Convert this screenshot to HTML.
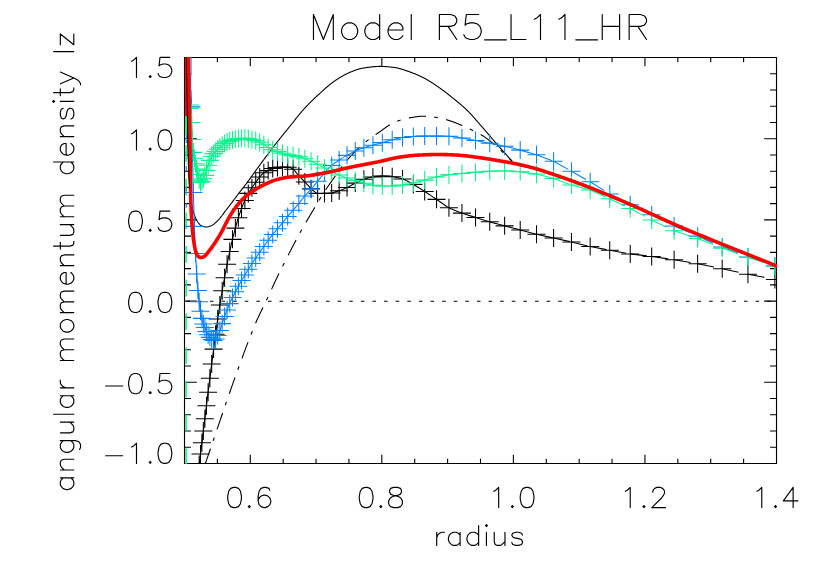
<!DOCTYPE html>
<html><head><meta charset="utf-8"><title>Model R5_L11_HR</title>
<style>html,body{margin:0;padding:0;background:#fff;font-family:"Liberation Sans",sans-serif}svg{display:block}</style></head>
<body>
<svg width="830" height="581" viewBox="0 0 830 581">
<rect width="830" height="581" fill="#fff"/>
<defs><clipPath id="c"><rect x="185.00" y="57.00" width="592.00" height="407.00"/></clipPath></defs>
<path d="M184.50 57.50H776.50V463.50H184.50ZM217.39 463.50v-4.10M217.39 57.50v4.10M250.28 463.50v-8.20M250.28 57.50v8.20M283.17 463.50v-4.10M283.17 57.50v4.10M316.06 463.50v-4.10M316.06 57.50v4.10M348.94 463.50v-4.10M348.94 57.50v4.10M381.83 463.50v-8.20M381.83 57.50v8.20M414.72 463.50v-4.10M414.72 57.50v4.10M447.61 463.50v-4.10M447.61 57.50v4.10M480.50 463.50v-4.10M480.50 57.50v4.10M513.39 463.50v-8.20M513.39 57.50v8.20M546.28 463.50v-4.10M546.28 57.50v4.10M579.17 463.50v-4.10M579.17 57.50v4.10M612.06 463.50v-4.10M612.06 57.50v4.10M644.94 463.50v-8.20M644.94 57.50v8.20M677.83 463.50v-4.10M677.83 57.50v4.10M710.72 463.50v-4.10M710.72 57.50v4.10M743.61 463.50v-4.10M743.61 57.50v4.10M184.50 447.26h5.90M776.50 447.26h-5.90M184.50 431.02h5.90M776.50 431.02h-5.90M184.50 414.78h5.90M776.50 414.78h-5.90M184.50 398.54h5.90M776.50 398.54h-5.90M184.50 382.30h11.80M776.50 382.30h-11.80M184.50 366.06h5.90M776.50 366.06h-5.90M184.50 349.82h5.90M776.50 349.82h-5.90M184.50 333.58h5.90M776.50 333.58h-5.90M184.50 317.34h5.90M776.50 317.34h-5.90M184.50 301.10h11.80M776.50 301.10h-11.80M184.50 284.86h5.90M776.50 284.86h-5.90M184.50 268.62h5.90M776.50 268.62h-5.90M184.50 252.38h5.90M776.50 252.38h-5.90M184.50 236.14h5.90M776.50 236.14h-5.90M184.50 219.90h11.80M776.50 219.90h-11.80M184.50 203.66h5.90M776.50 203.66h-5.90M184.50 187.42h5.90M776.50 187.42h-5.90M184.50 171.18h5.90M776.50 171.18h-5.90M184.50 154.94h5.90M776.50 154.94h-5.90M184.50 138.70h11.80M776.50 138.70h-11.80M184.50 122.46h5.90M776.50 122.46h-5.90M184.50 106.22h5.90M776.50 106.22h-5.90M184.50 89.98h5.90M776.50 89.98h-5.90M184.50 73.74h5.90M776.50 73.74h-5.90" stroke="#000" stroke-width="1.1" fill="none" stroke-linecap="square"/>
<g clip-path="url(#c)" fill="none" stroke-linecap="butt" stroke-linejoin="round">
<path d="M186.20 57.00 L186.21 57.59 L186.23 58.18 L186.24 58.77 L186.25 59.36 L186.26 59.95 L186.28 60.54 L186.29 61.12 L186.30 61.71 L186.31 62.30 L186.32 62.89 L186.34 63.48 L186.35 64.07 L186.36 64.66 L186.37 65.25 L186.39 65.84 L186.40 66.43 L186.41 67.02 L186.42 67.61 L186.44 68.19 L186.45 68.78 L186.46 69.37 L186.47 69.96 L186.49 70.55 L186.50 71.14 L186.51 71.73 L186.52 72.32 L186.54 72.91 L186.55 73.50 L186.56 74.09 L186.57 74.68 L186.59 75.27 L186.60 75.85 L186.61 76.44 L186.62 77.03 L186.63 77.62 L186.65 78.21 L186.66 78.80 L186.67 79.39 L186.68 79.98 L186.70 80.57 L186.71 81.16 L186.72 81.75 L186.73 82.34 L186.75 82.93 L186.76 83.51 L186.77 84.10 L186.78 84.69 L186.79 85.28 L186.81 85.87 L186.82 86.46 L186.83 87.05 L186.84 87.64 L186.86 88.23 L186.87 88.82 L186.88 89.41 L186.89 90.00 L186.90 90.59 L186.92 91.17 L186.93 91.76 L186.94 92.35 L186.95 92.94 L186.96 93.53 L186.98 94.12 L186.99 94.71 L187.00 95.30 L187.01 95.89 L187.03 96.48 L187.04 97.07 L187.05 97.66 L187.06 98.24 L187.07 98.83 L187.09 99.42 L187.10 100.01 L187.11 100.60 L187.12 101.19 L187.13 101.78 L187.15 102.37 L187.16 102.96 L187.17 103.55 L187.18 104.14 L187.19 104.73 L187.21 105.32 L187.22 105.90 L187.23 106.49 L187.24 107.08 L187.25 107.67 L187.26 108.26 L187.28 108.85 L187.29 109.44 L187.30 110.03 L187.31 110.62 L187.32 111.21 L187.33 111.80 L187.34 112.39 L187.35 112.98 L187.37 113.56 L187.38 114.15 L187.39 114.74 L187.40 115.33 L187.41 115.92 L187.42 116.51 L187.43 117.10 L187.44 117.69 L187.45 118.28 L187.46 118.87 L187.47 119.46 L187.48 120.05 L187.49 120.64 L187.50 121.23 L187.51 121.81 L187.52 122.40 L187.53 122.99 L187.55 123.58 L187.56 124.17 L187.57 124.76 L187.58 125.35 L187.59 125.94 L187.60 126.53 L187.61 127.12 L187.62 127.71 L187.63 128.30 L187.64 128.89 L187.65 129.48 L187.66 130.06 L187.67 130.65 L187.69 131.24 L187.70 131.83 L187.71 132.42 L187.72 133.01 L187.73 133.60 L187.74 134.19 L187.75 134.78 L187.77 135.37 L187.78 135.96 L187.79 136.55 L187.80 137.14 L187.81 137.72 L187.83 138.31 L187.84 138.90 L187.85 139.49 L187.86 140.08 L187.88 140.67 L187.89 141.26 L187.90 141.85 L187.92 142.44 L187.93 143.03 L187.94 143.62 L187.96 144.21 L187.97 144.79 L187.98 145.38 L188.00 145.97 L188.01 146.56 L188.03 147.15 L188.04 147.74 L188.06 148.33 L188.07 148.92 L188.09 149.51 L188.10 150.10 L188.12 150.69 L188.13 151.27 L188.15 151.86 L188.17 152.45 L188.18 153.04 L188.20 153.63 L188.21 154.22 L188.23 154.81 L188.25 155.40 L188.26 155.99 L188.28 156.58 L188.30 157.17 L188.31 157.76 L188.33 158.35 L188.35 158.94 L188.37 159.53 L188.38 160.11 L188.40 160.70 L188.42 161.29 L188.44 161.88 L188.46 162.47 L188.48 163.06 L188.50 163.65 L188.52 164.24 L188.54 164.83 L188.56 165.42 L188.58 166.01 L188.60 166.60 L188.62 167.19 L188.64 167.77 L188.67 168.36 L188.69 168.95 L188.71 169.54 L188.74 170.13 L188.76 170.72 L188.78 171.31 L188.81 171.90 L188.83 172.49 L188.86 173.07 L188.89 173.66 L188.91 174.25 L188.94 174.84 L188.97 175.43 L189.00 176.02 L189.02 176.60 L189.05 177.19 L189.08 177.78 L189.11 178.37 L189.14 178.96 L189.18 179.54 L189.21 180.13 L189.24 180.72 L189.27 181.31 L189.31 181.90 L189.34 182.49 L189.38 183.08 L189.42 183.67 L189.46 184.26 L189.50 184.85 L189.54 185.44 L189.58 186.03 L189.63 186.62 L189.67 187.21 L189.72 187.80 L189.77 188.39 L189.82 188.98 L189.87 189.57 L189.92 190.16 L189.97 190.75 L190.03 191.34 L190.08 191.93 L190.14 192.52 L190.20 193.11 L190.26 193.70 L190.32 194.29 L190.38 194.87 L190.45 195.46 L190.51 196.05 L190.58 196.63 L190.65 197.22 L190.72 197.80 L190.79 198.39 L190.87 198.97 L190.94 199.55 L191.02 200.13 L191.10 200.71 L191.18 201.29 L191.26 201.87 L191.35 202.45 L191.43 203.03 L191.52 203.60 L191.61 204.17 L191.71 204.75 L191.81 205.33 L191.92 205.91 L192.03 206.49 L192.15 207.07 L192.28 207.66 L192.41 208.24 L192.55 208.83 L192.70 209.42 L192.85 210.00 L193.01 210.58 L193.18 211.16 L193.35 211.74 L193.52 212.32 L193.71 212.90 L193.89 213.47 L194.09 214.04 L194.28 214.60 L194.49 215.16 L194.70 215.71 L194.91 216.26 L195.13 216.80 L195.36 217.34 L195.59 217.87 L195.82 218.39 L196.06 218.91 L196.31 219.41 L196.56 219.91 L196.83 220.42 L197.12 220.94 L197.44 221.47 L197.77 222.00 L198.13 222.53 L198.51 223.04 L198.90 223.53 L199.30 224.00 L199.72 224.43 L200.16 224.82 L200.60 225.17 L201.05 225.46 L201.51 225.70 L202.01 225.94 L202.55 226.16 L203.12 226.38 L203.70 226.57 L204.30 226.74 L204.91 226.87 L205.50 226.96 L206.09 227.00 L206.66 226.98 L207.24 226.92 L207.83 226.81 L208.41 226.67 L209.00 226.50 L209.57 226.32 L210.14 226.12 L210.68 225.92 L211.21 225.72 L211.73 225.48 L212.24 225.20 L212.75 224.90 L213.24 224.56 L213.73 224.20 L214.21 223.83 L214.68 223.44 L215.13 223.05 L215.58 222.66 L216.02 222.27 L216.45 221.89 L216.87 221.49 L217.28 221.09 L217.69 220.68 L218.09 220.26 L218.49 219.84 L218.88 219.40 L219.26 218.96 L219.65 218.52 L220.03 218.07 L220.40 217.61 L220.77 217.15 L221.14 216.68 L221.50 216.21 L221.87 215.74 L222.23 215.27 L222.58 214.79 L222.94 214.31 L223.30 213.83 L223.65 213.35 L224.01 212.87 L224.36 212.39 L224.72 211.91 L225.07 211.43 L225.43 210.95 L225.79 210.48 L226.14 210.00 L226.50 209.54 L226.87 209.07 L227.23 208.61 L227.59 208.14 L227.96 207.68 L228.32 207.21 L228.68 206.75 L229.04 206.28 L229.40 205.81 L229.75 205.34 L230.11 204.87 L230.47 204.41 L230.82 203.94 L231.18 203.46 L231.53 202.99 L231.89 202.52 L232.24 202.05 L232.59 201.58 L232.94 201.11 L233.30 200.63 L233.65 200.16 L234.00 199.69 L234.36 199.22 L234.71 198.74 L235.06 198.27 L235.41 197.80 L235.77 197.33 L236.12 196.86 L236.47 196.38 L236.83 195.91 L237.18 195.44 L237.54 194.97 L237.89 194.50 L238.25 194.03 L238.60 193.56 L238.96 193.09 L239.32 192.62 L239.68 192.16 L240.04 191.69 L240.40 191.23 L240.76 190.76 L241.13 190.30 L241.49 189.84 L241.86 189.37 L242.22 188.91 L242.59 188.45 L242.96 187.99 L243.32 187.53 L243.69 187.06 L244.05 186.60 L244.42 186.14 L244.78 185.67 L245.14 185.21 L245.50 184.74 L245.86 184.27 L246.22 183.81 L246.57 183.34 L246.93 182.87 L247.28 182.39 L247.63 181.92 L247.98 181.45 L248.33 180.97 L248.68 180.50 L249.03 180.02 L249.38 179.55 L249.73 179.07 L250.07 178.59 L250.42 178.12 L250.76 177.64 L251.11 177.16 L251.45 176.68 L251.79 176.20 L252.14 175.72 L252.48 175.24 L252.82 174.76 L253.16 174.28 L253.51 173.80 L253.85 173.32 L254.19 172.84 L254.53 172.36 L254.87 171.88 L255.22 171.40 L255.56 170.92 L255.90 170.44 L256.24 169.96 L256.59 169.48 L256.93 169.01 L257.27 168.53 L257.62 168.05 L257.96 167.57 L258.31 167.09 L258.65 166.61 L259.00 166.14 L259.35 165.66 L259.70 165.19 L260.04 164.71 L260.39 164.24 L260.74 163.76 L261.09 163.29 L261.44 162.81 L261.79 162.34 L262.14 161.87 L262.49 161.39 L262.84 160.92 L263.20 160.45 L263.55 159.97 L263.90 159.50 L264.25 159.02 L264.60 158.55 L264.95 158.08 L265.30 157.60 L265.65 157.13 L266.01 156.66 L266.36 156.19 L266.71 155.71 L267.06 155.24 L267.42 154.77 L267.77 154.30 L268.12 153.83 L268.48 153.36 L268.83 152.88 L269.19 152.41 L269.54 151.94 L269.90 151.47 L270.25 151.00 L270.61 150.53 L270.97 150.06 L271.32 149.60 L271.68 149.13 L272.04 148.66 L272.40 148.19 L272.75 147.72 L273.11 147.26 L273.47 146.79 L273.83 146.32 L274.19 145.86 L274.55 145.39 L274.91 144.92 L275.28 144.46 L275.64 143.99 L276.00 143.53 L276.36 143.07 L276.73 142.60 L277.09 142.14 L277.46 141.68 L277.82 141.22 L278.19 140.75 L278.56 140.29 L278.92 139.83 L279.29 139.37 L279.66 138.91 L280.03 138.45 L280.40 137.99 L280.76 137.53 L281.13 137.07 L281.50 136.61 L281.87 136.15 L282.24 135.69 L282.61 135.23 L282.98 134.78 L283.35 134.32 L283.72 133.86 L284.09 133.40 L284.46 132.94 L284.84 132.48 L285.21 132.03 L285.58 131.57 L285.95 131.11 L286.32 130.65 L286.69 130.20 L287.06 129.74 L287.43 129.28 L287.81 128.82 L288.18 128.36 L288.55 127.91 L288.92 127.45 L289.29 126.99 L289.66 126.53 L290.03 126.07 L290.40 125.61 L290.77 125.15 L291.13 124.69 L291.50 124.23 L291.87 123.76 L292.23 123.30 L292.60 122.84 L292.96 122.37 L293.33 121.91 L293.70 121.45 L294.06 120.98 L294.43 120.52 L294.79 120.06 L295.16 119.59 L295.53 119.13 L295.89 118.67 L296.26 118.21 L296.63 117.74 L297.00 117.28 L297.37 116.82 L297.74 116.36 L298.11 115.91 L298.48 115.45 L298.85 114.99 L299.23 114.54 L299.60 114.08 L299.98 113.63 L300.36 113.18 L300.74 112.73 L301.12 112.28 L301.50 111.83 L301.88 111.39 L302.27 110.94 L302.66 110.50 L303.05 110.06 L303.44 109.62 L303.83 109.19 L304.22 108.75 L304.62 108.32 L305.02 107.89 L305.42 107.46 L305.82 107.03 L306.23 106.60 L306.63 106.17 L307.04 105.75 L307.45 105.32 L307.85 104.90 L308.27 104.48 L308.68 104.05 L309.09 103.63 L309.51 103.21 L309.92 102.79 L310.34 102.38 L310.76 101.96 L311.18 101.54 L311.60 101.13 L312.02 100.72 L312.44 100.30 L312.87 99.89 L313.29 99.48 L313.72 99.07 L314.14 98.66 L314.57 98.26 L315.00 97.85 L315.43 97.44 L315.86 97.04 L316.29 96.64 L316.72 96.23 L317.15 95.83 L317.58 95.43 L318.02 95.03 L318.45 94.63 L318.88 94.24 L319.32 93.84 L319.75 93.44 L320.19 93.05 L320.62 92.65 L321.06 92.25 L321.50 91.86 L321.93 91.46 L322.37 91.06 L322.81 90.66 L323.25 90.26 L323.69 89.87 L324.13 89.47 L324.57 89.08 L325.01 88.68 L325.46 88.29 L325.90 87.90 L326.35 87.51 L326.79 87.12 L327.24 86.73 L327.69 86.35 L328.15 85.97 L328.60 85.59 L329.05 85.21 L329.51 84.84 L329.97 84.47 L330.43 84.10 L330.89 83.74 L331.36 83.38 L331.82 83.02 L332.29 82.67 L332.76 82.32 L333.24 81.98 L333.71 81.64 L334.19 81.31 L334.67 80.98 L335.15 80.65 L335.64 80.32 L336.13 79.99 L336.62 79.66 L337.11 79.33 L337.61 79.01 L338.10 78.69 L338.60 78.37 L339.11 78.05 L339.61 77.73 L340.12 77.42 L340.62 77.11 L341.13 76.80 L341.65 76.50 L342.16 76.20 L342.68 75.91 L343.19 75.62 L343.71 75.33 L344.23 75.05 L344.76 74.78 L345.28 74.51 L345.81 74.24 L346.33 73.98 L346.86 73.73 L347.39 73.48 L347.92 73.24 L348.46 73.00 L348.99 72.78 L349.53 72.55 L350.07 72.32 L350.61 72.09 L351.15 71.86 L351.70 71.64 L352.25 71.41 L352.80 71.19 L353.36 70.97 L353.91 70.75 L354.47 70.54 L355.03 70.33 L355.59 70.13 L356.15 69.93 L356.72 69.73 L357.28 69.55 L357.85 69.36 L358.41 69.19 L358.98 69.03 L359.55 68.87 L360.12 68.72 L360.69 68.58 L361.26 68.45 L361.83 68.33 L362.41 68.22 L362.98 68.12 L363.55 68.03 L364.13 67.94 L364.70 67.85 L365.28 67.76 L365.86 67.67 L366.44 67.59 L367.02 67.50 L367.61 67.42 L368.19 67.34 L368.78 67.26 L369.36 67.18 L369.95 67.11 L370.54 67.03 L371.13 66.97 L371.72 66.90 L372.31 66.84 L372.90 66.78 L373.49 66.72 L374.08 66.67 L374.67 66.62 L375.26 66.58 L375.86 66.54 L376.45 66.50 L377.04 66.47 L377.63 66.45 L378.22 66.43 L378.81 66.41 L379.39 66.40 L379.98 66.40 L380.57 66.40 L381.16 66.41 L381.75 66.42 L382.34 66.44 L382.93 66.46 L383.52 66.49 L384.11 66.52 L384.70 66.55 L385.29 66.59 L385.88 66.63 L386.47 66.67 L387.06 66.72 L387.65 66.77 L388.24 66.82 L388.83 66.87 L389.42 66.93 L390.01 66.99 L390.60 67.05 L391.18 67.12 L391.77 67.18 L392.35 67.25 L392.93 67.31 L393.51 67.38 L394.09 67.45 L394.67 67.52 L395.25 67.60 L395.82 67.69 L396.40 67.79 L396.97 67.90 L397.54 68.03 L398.12 68.16 L398.69 68.30 L399.26 68.44 L399.83 68.60 L400.40 68.76 L400.97 68.93 L401.54 69.10 L402.11 69.28 L402.67 69.46 L403.24 69.64 L403.80 69.83 L404.36 70.03 L404.93 70.22 L405.49 70.41 L406.05 70.61 L406.61 70.81 L407.17 71.00 L407.73 71.20 L408.28 71.39 L408.84 71.58 L409.39 71.77 L409.95 71.96 L410.50 72.16 L411.06 72.36 L411.61 72.56 L412.16 72.77 L412.71 72.98 L413.27 73.19 L413.82 73.41 L414.37 73.63 L414.92 73.85 L415.46 74.07 L416.01 74.30 L416.56 74.53 L417.10 74.76 L417.64 75.00 L418.18 75.24 L418.72 75.48 L419.26 75.72 L419.80 75.97 L420.33 76.21 L420.87 76.46 L421.40 76.72 L421.93 76.97 L422.45 77.23 L422.98 77.49 L423.50 77.75 L424.02 78.02 L424.54 78.29 L425.06 78.56 L425.57 78.84 L426.09 79.13 L426.60 79.42 L427.11 79.71 L427.62 80.01 L428.13 80.31 L428.64 80.61 L429.14 80.92 L429.64 81.22 L430.15 81.54 L430.65 81.85 L431.15 82.17 L431.65 82.49 L432.14 82.81 L432.64 83.13 L433.14 83.46 L433.63 83.78 L434.12 84.11 L434.61 84.44 L435.10 84.77 L435.59 85.10 L436.08 85.43 L436.57 85.76 L437.06 86.09 L437.54 86.42 L438.03 86.76 L438.51 87.09 L438.99 87.43 L439.48 87.76 L439.96 88.10 L440.44 88.45 L440.91 88.79 L441.39 89.14 L441.87 89.48 L442.34 89.83 L442.81 90.19 L443.29 90.54 L443.76 90.89 L444.23 91.25 L444.70 91.61 L445.17 91.96 L445.63 92.32 L446.10 92.69 L446.57 93.05 L447.03 93.41 L447.50 93.78 L447.96 94.14 L448.43 94.51 L448.89 94.87 L449.35 95.24 L449.81 95.61 L450.27 95.97 L450.73 96.34 L451.19 96.71 L451.65 97.08 L452.11 97.45 L452.57 97.82 L453.03 98.19 L453.49 98.56 L453.95 98.93 L454.41 99.30 L454.87 99.67 L455.33 100.04 L455.78 100.41 L456.24 100.78 L456.70 101.16 L457.16 101.53 L457.62 101.90 L458.07 102.28 L458.53 102.66 L458.98 103.03 L459.44 103.41 L459.89 103.79 L460.34 104.18 L460.79 104.56 L461.24 104.94 L461.68 105.33 L462.13 105.71 L462.57 106.10 L463.01 106.49 L463.45 106.88 L463.89 107.28 L464.33 107.67 L464.76 108.07 L465.19 108.47 L465.62 108.87 L466.05 109.27 L466.47 109.68 L466.89 110.09 L467.31 110.50 L467.73 110.91 L468.14 111.32 L468.55 111.74 L468.96 112.16 L469.37 112.59 L469.78 113.01 L470.18 113.44 L470.58 113.87 L470.98 114.30 L471.38 114.73 L471.78 115.17 L472.18 115.60 L472.57 116.04 L472.97 116.48 L473.36 116.92 L473.75 117.36 L474.15 117.80 L474.54 118.24 L474.93 118.69 L475.31 119.13 L475.70 119.58 L476.09 120.03 L476.48 120.47 L476.87 120.92 L477.25 121.36 L477.64 121.81 L478.03 122.26 L478.41 122.71 L478.80 123.15 L479.19 123.60 L479.57 124.04 L479.96 124.49 L480.35 124.93 L480.74 125.38 L481.13 125.82 L481.52 126.26 L481.91 126.70 L482.29 127.15 L482.68 127.59 L483.07 128.04 L483.45 128.48 L483.84 128.93 L484.22 129.37 L484.61 129.82 L484.99 130.27 L485.37 130.72 L485.76 131.16 L486.14 131.61 L486.52 132.06 L486.90 132.51 L487.28 132.96 L487.67 133.41 L488.05 133.86 L488.43 134.31 L488.81 134.76 L489.19 135.21 L489.57 135.66 L489.95 136.11 L490.33 136.56 L490.72 137.01 L491.10 137.45 L491.48 137.90 L491.86 138.35 L492.25 138.80 L492.63 139.25 L493.01 139.70 L493.40 140.14 L493.78 140.59 L494.17 141.04 L494.55 141.48 L494.94 141.93 L495.32 142.37 L495.71 142.81 L496.10 143.26 L496.49 143.70 L496.88 144.14 L497.27 144.59 L497.66 145.03 L498.04 145.47 L498.43 145.91 L498.82 146.36 L499.21 146.80 L499.60 147.24 L499.99 147.68 L500.38 148.12 L500.78 148.56 L501.17 149.00 L501.56 149.44 L501.95 149.89 L502.34 150.33 L502.73 150.77 L503.12 151.21 L503.52 151.65 L503.91 152.09 L504.30 152.52 L504.69 152.96 L505.09 153.40 L505.48 153.84 L505.87 154.28 L506.27 154.72 L506.66 155.16 L507.06 155.60 L507.45 156.03 L507.85 156.47 L508.24 156.91 L508.64 157.35 L509.03 157.78 L509.43 158.22 L509.82 158.66 L510.22 159.09 L510.61 159.53 L511.01 159.97 L511.41 160.40 L511.80 160.84 L512.20 161.27" stroke="#000" stroke-width="1.1"/>
<path d="M203.50 469.00 L203.67 468.49 L203.84 467.99 L204.01 467.48 L204.19 466.97 L204.36 466.46 L204.53 465.96 L204.70 465.45 L204.87 464.94 L205.05 464.44 L205.22 463.93 L205.40 463.42 L205.57 462.92 L205.74 462.41 L205.92 461.90 L206.09 461.40 L206.27 460.89 L206.44 460.38 L206.62 459.88 L206.79 459.37 L206.96 458.87 L207.14 458.36 L207.31 457.85 L207.49 457.35 L207.66 456.84 L207.83 456.33 L208.01 455.83 L208.18 455.32 L208.35 454.81 L208.53 454.31 L208.70 453.80 L208.87 453.29 L209.05 452.79 L209.22 452.28 L209.39 451.77 L209.57 451.26 L209.74 450.76 L209.91 450.25 L210.09 449.74 L210.26 449.24 L210.43 448.73 L210.61 448.22 L210.78 447.72 L210.95 447.21 L211.13 446.70 L211.30 446.20 L211.47 445.69 L211.64 445.18 L211.82 444.67 L211.99 444.17 L212.16 443.66 L212.34 443.15 L212.51 442.65 L212.68 442.14 L212.85 441.63 L213.03 441.12 L213.20 440.62 L213.37 440.11 L213.55 439.60 L213.72 439.10 L213.89 438.59 L214.06 438.08 L214.24 437.57 L214.41 437.07 L214.58 436.56 L214.75 436.05 L214.93 435.55 L215.10 435.04 L215.27 434.53 L215.45 434.02 L215.62 433.52 L215.79 433.01 L215.96 432.50 L216.14 431.99 L216.31 431.49 L216.48 430.98 L216.65 430.47 L216.83 429.97 L217.00 429.46 L217.17 428.95 L217.35 428.44 L217.52 427.94 L217.69 427.43 L217.86 426.92 L218.04 426.42 L218.21 425.91 L218.38 425.40 L218.56 424.89 L218.73 424.39 L218.90 423.88 L219.07 423.37 L219.25 422.87 L219.42 422.36 L219.59 421.85 L219.77 421.34 L219.94 420.84 L220.11 420.33 L220.29 419.82 L220.46 419.32 L220.63 418.81 L220.81 418.30 L220.98 417.79 L221.15 417.29 L221.33 416.78 L221.50 416.27 L221.67 415.77 L221.85 415.26 L222.02 414.75 L222.19 414.24 L222.37 413.74 L222.54 413.23 L222.71 412.72 L222.89 412.22 L223.06 411.71 L223.24 411.20 L223.41 410.70 L223.58 410.19 L223.76 409.68 L223.93 409.18 L224.11 408.67 L224.28 408.16 L224.45 407.66 L224.63 407.15 L224.80 406.64 L224.98 406.14 L225.15 405.63 L225.33 405.12 L225.50 404.62 L225.68 404.11 L225.85 403.60 L226.03 403.10 L226.20 402.59 L226.38 402.08 L226.55 401.58 L226.73 401.07 L226.90 400.57 L227.08 400.06 L227.25 399.55 L227.43 399.05 L227.60 398.54 L227.78 398.03 L227.95 397.53 L228.13 397.02 L228.31 396.52 L228.48 396.01 L228.66 395.50 L228.83 395.00 L229.01 394.49 L229.19 393.99 L229.36 393.48 L229.54 392.97 L229.72 392.47 L229.89 391.96 L230.07 391.46 L230.25 390.95 L230.42 390.45 L230.60 389.94 L230.78 389.43 L230.95 388.93 L231.13 388.42 L231.31 387.92 L231.49 387.41 L231.66 386.91 L231.84 386.40 L232.02 385.90 L232.20 385.39 L232.38 384.89 L232.55 384.38 L232.73 383.88 L232.91 383.37 L233.09 382.87 L233.27 382.36 L233.45 381.86 L233.63 381.35 L233.81 380.85 L233.98 380.34 L234.16 379.84 L234.34 379.33 L234.52 378.83 L234.70 378.32 L234.88 377.82 L235.06 377.31 L235.24 376.81 L235.42 376.31 L235.60 375.80 L235.78 375.30 L235.96 374.79 L236.14 374.29 L236.32 373.78 L236.51 373.28 L236.69 372.78 L236.87 372.27 L237.05 371.77 L237.23 371.26 L237.41 370.76 L237.59 370.26 L237.78 369.75 L237.96 369.25 L238.14 368.75 L238.32 368.24 L238.51 367.74 L238.69 367.24 L238.87 366.73 L239.05 366.23 L239.24 365.73 L239.42 365.22 L239.60 364.72 L239.79 364.22 L239.97 363.72 L240.15 363.21 L240.34 362.71 L240.52 362.21 L240.71 361.70 L240.89 361.20 L241.08 360.70 L241.26 360.20 L241.45 359.70 L241.63 359.19 L241.82 358.69 L242.00 358.19 L242.19 357.69 L242.37 357.18 L242.56 356.68 L242.75 356.18 L242.93 355.68 L243.12 355.18 L243.31 354.68 L243.49 354.17 L243.68 353.67 L243.87 353.17 L244.05 352.67 L244.24 352.17 L244.43 351.67 L244.62 351.17 L244.81 350.67 L244.99 350.16 L245.18 349.66 L245.37 349.16 L245.56 348.66 L245.75 348.16 L245.94 347.66 L246.13 347.16 L246.32 346.66 L246.51 346.16 L246.70 345.66 L246.89 345.16 L247.08 344.66 L247.27 344.16 L247.46 343.66 L247.65 343.16 L247.84 342.66 L248.03 342.16 L248.23 341.66 L248.42 341.16 L248.61 340.66 L248.80 340.16 L249.00 339.67 L249.19 339.17 L249.38 338.67 L249.57 338.17 L249.77 337.67 L249.96 337.17 L250.16 336.67 L250.35 336.17 L250.54 335.68 L250.74 335.18 L250.93 334.68 L251.13 334.18 L251.32 333.68 L251.52 333.18 L251.71 332.69 L251.91 332.19 L252.11 331.69 L252.30 331.19 L252.50 330.70 L252.70 330.20 L252.90 329.70 L253.10 329.21 L253.30 328.71 L253.50 328.21 L253.70 327.72 L253.91 327.22 L254.11 326.73 L254.32 326.23 L254.53 325.74 L254.73 325.25 L254.94 324.75 L255.15 324.26 L255.36 323.77 L255.58 323.27 L255.79 322.78 L256.00 322.29 L256.22 321.80 L256.43 321.31 L256.65 320.82 L256.86 320.33 L257.08 319.84 L257.30 319.35 L257.52 318.87 L257.74 318.38 L257.96 317.89 L258.19 317.41 L258.41 316.92 L258.64 316.44 L258.87 315.95 L259.10 315.47 L259.33 314.98 L259.56 314.50 L259.79 314.02 L260.02 313.53 L260.25 313.05 L260.48 312.57 L260.72 312.09 L260.95 311.61 L261.19 311.13 L261.42 310.64 L261.66 310.16 L261.89 309.68 L262.13 309.20 L262.37 308.72 L262.60 308.24 L262.84 307.76 L263.08 307.28 L263.31 306.80 L263.55 306.32 L263.79 305.84 L264.02 305.35 L264.26 304.87 L264.49 304.39 L264.73 303.91 L264.96 303.43 L265.20 302.95 L265.43 302.46 L265.66 301.98 L265.89 301.50 L266.12 301.02 L266.35 300.53 L266.58 300.05 L266.81 299.56 L267.04 299.08 L267.27 298.59 L267.49 298.11 L267.72 297.62 L267.94 297.14 L268.17 296.65 L268.39 296.17 L268.62 295.68 L268.84 295.19 L269.06 294.71 L269.29 294.22 L269.51 293.73 L269.73 293.24 L269.95 292.76 L270.18 292.27 L270.40 291.78 L270.62 291.30 L270.84 290.81 L271.06 290.32 L271.29 289.83 L271.51 289.35 L271.73 288.86 L271.95 288.37 L272.17 287.88 L272.40 287.40 L272.62 286.91 L272.84 286.42 L273.06 285.94 L273.29 285.45 L273.51 284.96 L273.74 284.48 L273.96 283.99 L274.19 283.50 L274.41 283.02 L274.64 282.53 L274.86 282.05 L275.09 281.56 L275.32 281.08 L275.55 280.59 L275.78 280.11 L276.01 279.63 L276.24 279.14 L276.47 278.66 L276.70 278.18 L276.93 277.70 L277.16 277.21 L277.40 276.73 L277.63 276.25 L277.86 275.77 L278.10 275.29 L278.33 274.80 L278.57 274.32 L278.80 273.84 L279.04 273.36 L279.28 272.88 L279.51 272.40 L279.75 271.92 L279.99 271.44 L280.23 270.96 L280.46 270.48 L280.70 270.00 L280.94 269.52 L281.18 269.04 L281.42 268.56 L281.66 268.09 L281.90 267.61 L282.14 267.13 L282.38 266.65 L282.62 266.17 L282.86 265.69 L283.10 265.21 L283.34 264.74 L283.59 264.26 L283.83 263.78 L284.07 263.30 L284.31 262.82 L284.55 262.35 L284.80 261.87 L285.04 261.39 L285.28 260.91 L285.52 260.44 L285.77 259.96 L286.01 259.48 L286.25 259.01 L286.49 258.53 L286.74 258.05 L286.98 257.57 L287.22 257.10 L287.47 256.62 L287.71 256.14 L287.95 255.66 L288.20 255.19 L288.44 254.71 L288.68 254.23 L288.93 253.76 L289.17 253.28 L289.41 252.80 L289.66 252.33 L289.90 251.85 L290.15 251.37 L290.39 250.89 L290.64 250.42 L290.88 249.94 L291.12 249.47 L291.37 248.99 L291.61 248.51 L291.86 248.04 L292.11 247.56 L292.35 247.08 L292.60 246.61 L292.84 246.13 L293.09 245.66 L293.34 245.18 L293.59 244.71 L293.83 244.23 L294.08 243.76 L294.33 243.28 L294.58 242.81 L294.83 242.33 L295.08 241.86 L295.33 241.39 L295.58 240.91 L295.83 240.44 L296.08 239.97 L296.33 239.49 L296.58 239.02 L296.83 238.55 L297.08 238.08 L297.34 237.60 L297.59 237.13 L297.84 236.66 L298.10 236.19 L298.35 235.72 L298.61 235.25 L298.86 234.78 L299.12 234.31 L299.38 233.84 L299.63 233.37 L299.89 232.90 L300.15 232.43 L300.41 231.96 L300.67 231.50 L300.93 231.03 L301.19 230.56 L301.45 230.09 L301.72 229.63 L301.98 229.16 L302.24 228.70 L302.51 228.23 L302.77 227.77 L303.04 227.30 L303.31 226.84 L303.57 226.37 L303.84 225.91 L304.11 225.45 L304.38 224.98 L304.65 224.52 L304.92 224.06 L305.19 223.59 L305.46 223.13 L305.73 222.67 L306.00 222.21 L306.27 221.75 L306.54 221.29 L306.82 220.82 L307.09 220.36 L307.36 219.90 L307.64 219.44 L307.91 218.98 L308.18 218.52 L308.46 218.06 L308.73 217.60 L309.01 217.14 L309.28 216.68 L309.56 216.22 L309.83 215.76 L310.11 215.30 L310.38 214.84 L310.66 214.38 L310.93 213.92 L311.21 213.46 L311.48 213.00 L311.76 212.54 L312.03 212.08 L312.31 211.62 L312.58 211.17 L312.86 210.71 L313.13 210.25 L313.40 209.79 L313.68 209.33 L313.95 208.87 L314.23 208.41 L314.50 207.95 L314.78 207.49 L315.05 207.03 L315.33 206.57 L315.60 206.11 L315.88 205.65 L316.15 205.19 L316.43 204.73 L316.70 204.27 L316.98 203.81 L317.25 203.35 L317.53 202.89 L317.80 202.43 L318.08 201.97 L318.36 201.51 L318.64 201.05 L318.91 200.60 L319.19 200.14 L319.47 199.68 L319.75 199.22 L320.03 198.77 L320.31 198.31 L320.59 197.85 L320.87 197.40 L321.15 196.94 L321.44 196.49 L321.72 196.03 L322.00 195.58 L322.29 195.13 L322.57 194.67 L322.86 194.22 L323.14 193.77 L323.43 193.32 L323.72 192.87 L324.01 192.42 L324.30 191.97 L324.59 191.52 L324.88 191.07 L325.17 190.62 L325.47 190.17 L325.76 189.73 L326.06 189.28 L326.35 188.83 L326.65 188.39 L326.94 187.94 L327.24 187.50 L327.54 187.05 L327.84 186.61 L328.14 186.16 L328.44 185.72 L328.74 185.28 L329.05 184.84 L329.35 184.39 L329.65 183.95 L329.96 183.51 L330.26 183.07 L330.57 182.63 L330.88 182.19 L331.18 181.75 L331.49 181.31 L331.80 180.88 L332.11 180.44 L332.42 180.00 L332.73 179.56 L333.04 179.13 L333.35 178.69 L333.66 178.26 L333.97 177.82 L334.28 177.39 L334.59 176.95 L334.91 176.52 L335.22 176.08 L335.53 175.65 L335.84 175.21 L336.16 174.77 L336.47 174.34 L336.78 173.90 L337.09 173.46 L337.41 173.03 L337.72 172.59 L338.03 172.16 L338.35 171.72 L338.66 171.28 L338.98 170.85 L339.29 170.41 L339.61 169.98 L339.93 169.55 L340.24 169.11 L340.56 168.68 L340.88 168.25 L341.20 167.82 L341.52 167.39 L341.84 166.96 L342.16 166.53 L342.49 166.10 L342.81 165.67 L343.14 165.24 L343.46 164.82 L343.79 164.40 L344.12 163.97 L344.45 163.55 L344.78 163.13 L345.11 162.71 L345.45 162.29 L345.78 161.88 L346.12 161.46 L346.46 161.05 L346.80 160.64 L347.14 160.23 L347.48 159.82 L347.82 159.42 L348.17 159.01 L348.52 158.61 L348.87 158.21 L349.22 157.81 L349.57 157.41 L349.93 157.01 L350.28 156.61 L350.64 156.21 L351.00 155.82 L351.36 155.42 L351.73 155.03 L352.09 154.63 L352.46 154.24 L352.83 153.85 L353.20 153.46 L353.57 153.07 L353.94 152.68 L354.31 152.29 L354.69 151.91 L355.07 151.52 L355.44 151.14 L355.82 150.76 L356.20 150.38 L356.59 150.00 L356.97 149.62 L357.36 149.25 L357.74 148.87 L358.13 148.50 L358.52 148.13 L358.91 147.76 L359.30 147.40 L359.69 147.03 L360.09 146.67 L360.48 146.31 L360.88 145.95 L361.28 145.59 L361.68 145.24 L362.08 144.89 L362.48 144.54 L362.88 144.19 L363.28 143.84 L363.69 143.50 L364.10 143.16 L364.51 142.82 L364.92 142.48 L365.33 142.15 L365.75 141.82 L366.17 141.48 L366.59 141.15 L367.01 140.83 L367.43 140.50 L367.86 140.18 L368.29 139.85 L368.71 139.53 L369.14 139.21 L369.58 138.89 L370.01 138.57 L370.44 138.26 L370.88 137.94 L371.31 137.63 L371.75 137.31 L372.19 137.00 L372.63 136.69 L373.07 136.38 L373.51 136.07 L373.95 135.76 L374.39 135.46 L374.83 135.15 L375.27 134.84 L375.71 134.54 L376.16 134.23 L376.60 133.93 L377.04 133.63 L377.48 133.32 L377.93 133.02 L378.37 132.72 L378.81 132.41 L379.25 132.11 L379.70 131.81 L380.14 131.51 L380.58 131.20 L381.02 130.89 L381.46 130.58 L381.90 130.27 L382.33 129.95 L382.77 129.63 L383.21 129.31 L383.65 128.99 L384.09 128.67 L384.53 128.35 L384.97 128.03 L385.41 127.71 L385.85 127.39 L386.30 127.07 L386.74 126.76 L387.19 126.45 L387.63 126.14 L388.08 125.84 L388.53 125.54 L388.98 125.25 L389.43 124.96 L389.88 124.67 L390.34 124.40 L390.80 124.13 L391.26 123.86 L391.72 123.61 L392.19 123.36 L392.65 123.12 L393.12 122.88 L393.60 122.66 L394.07 122.45 L394.55 122.25 L395.04 122.05 L395.52 121.86 L396.01 121.66 L396.51 121.48 L397.00 121.29 L397.51 121.10 L398.01 120.92 L398.51 120.75 L399.02 120.57 L399.53 120.40 L400.05 120.23 L400.56 120.07 L401.08 119.90 L401.60 119.75 L402.12 119.59 L402.64 119.44 L403.16 119.30 L403.69 119.16 L404.21 119.02 L404.74 118.89 L405.26 118.76 L405.79 118.63 L406.31 118.52 L406.84 118.40 L407.36 118.29 L407.89 118.19 L408.41 118.09 L408.93 117.99 L409.46 117.90 L409.98 117.81 L410.51 117.72 L411.03 117.62 L411.56 117.53 L412.09 117.44 L412.62 117.35 L413.15 117.26 L413.68 117.17 L414.21 117.08 L414.74 117.00 L415.27 116.92 L415.81 116.84 L416.34 116.76 L416.88 116.69 L417.41 116.62 L417.94 116.56 L418.48 116.50 L419.01 116.44 L419.55 116.39 L420.08 116.35 L420.62 116.31 L421.15 116.27 L421.68 116.25 L422.22 116.23 L422.75 116.22 L423.28 116.21 L423.82 116.21 L424.35 116.22 L424.88 116.23 L425.42 116.25 L425.95 116.27 L426.49 116.30 L427.02 116.33 L427.56 116.37 L428.09 116.41 L428.63 116.45 L429.17 116.50 L429.70 116.55 L430.24 116.61 L430.77 116.67 L431.31 116.73 L431.84 116.79 L432.38 116.86 L432.91 116.92 L433.44 116.99 L433.98 117.06 L434.51 117.13 L435.04 117.21 L435.57 117.28 L436.10 117.36 L436.62 117.43 L437.15 117.51 L437.68 117.58 L438.20 117.66 L438.73 117.74 L439.25 117.84 L439.77 117.94 L440.29 118.04 L440.82 118.15 L441.34 118.27 L441.86 118.39 L442.38 118.52 L442.90 118.65 L443.42 118.79 L443.94 118.94 L444.46 119.08 L444.97 119.23 L445.49 119.38 L446.01 119.54 L446.52 119.70 L447.04 119.86 L447.55 120.03 L448.06 120.19 L448.58 120.36 L449.09 120.53 L449.60 120.70 L450.11 120.87 L450.62 121.04 L451.12 121.21 L451.63 121.38 L452.14 121.55 L452.64 121.71 L453.15 121.89 L453.65 122.06 L454.15 122.25 L454.65 122.43 L455.15 122.62 L455.65 122.81 L456.15 123.00 L456.65 123.20 L457.15 123.40 L457.64 123.60 L458.14 123.81 L458.63 124.01 L459.13 124.22 L459.62 124.43 L460.11 124.64 L460.61 124.86 L461.10 125.07 L461.59 125.29 L462.08 125.51 L462.57 125.73 L463.06 125.95 L463.55 126.17 L464.04 126.39 L464.53 126.61 L465.02 126.83 L465.50 127.06 L465.99 127.28 L466.48 127.50 L466.97 127.72 L467.45 127.94 L467.94 128.16 L468.43 128.38 L468.92 128.61 L469.41 128.83 L469.90 129.05 L470.39 129.27 L470.88 129.50 L471.37 129.72 L471.86 129.95 L472.34 130.18 L472.83 130.41 L473.32 130.64 L473.80 130.87 L474.29 131.10 L474.77 131.34 L475.25 131.58 L475.73 131.81 L476.21 132.06 L476.69 132.30 L477.17 132.55 L477.64 132.79 L478.11 133.05 L478.58 133.30 L479.05 133.56 L479.51 133.82 L479.97 134.08 L480.43 134.34 L480.89 134.61 L481.34 134.89 L481.79 135.16 L482.24 135.44 L482.69 135.73 L483.14 136.02 L483.58 136.31 L484.02 136.61 L484.46 136.91 L484.90 137.21 L485.34 137.52 L485.78 137.83 L486.21 138.15 L486.65 138.46 L487.08 138.78 L487.51 139.10 L487.94 139.43 L488.37 139.76 L488.79 140.08 L489.22 140.42 L489.64 140.75 L490.07 141.08 L490.49 141.42 L490.91 141.76 L491.33 142.10 L491.74 142.44 L492.16 142.78 L492.58 143.12 L492.99 143.46 L493.40 143.81 L493.81 144.15 L494.23 144.50 L494.64 144.84 L495.05 145.19 L495.45 145.53 L495.86 145.88 L496.26 146.22 L496.67 146.57 L497.07 146.93 L497.47 147.28 L497.86 147.64 L498.26 148.00 L498.65 148.37 L499.04 148.73 L499.43 149.10 L499.82 149.47 L500.20 149.84 L500.59 150.21 L500.98 150.59 L501.36 150.96 L501.75 151.33 L502.13 151.71 L502.52 152.08 L502.90 152.45 L503.29 152.83 L503.67 153.20 L504.06 153.57 L504.44 153.95 L504.83 154.32 L505.22 154.68 L505.61 155.05 L506.00 155.42 L506.39 155.79 L506.78 156.16 L507.17 156.53 L507.55 156.89 L507.94 157.26 L508.33 157.63 L508.72 158.00 L509.11 158.37 L509.50 158.74 L509.88 159.11 L510.27 159.48 L510.66 159.84 L511.05 160.21 L511.43 160.58 L511.82 160.95 L512.21 161.32" stroke="#000" stroke-width="1.1" stroke-dasharray="17.3 8.2 3.6 8.55" stroke-dashoffset="33.45"/>
<path d="M186.67 301.20H776.50" stroke="#000" stroke-width="1.1" stroke-dasharray="3.6 8.01"/>
<path d="M186.1 465V100" stroke="#00f58c" stroke-width="1.5" stroke-dasharray="16.7 17"/>
<path d="M186.3 128V143M186.3 166V171M186.3 188.5V191M186.3 203V207.8" stroke="#0082ff" stroke-width="1.1"/>
<path d="M198.60 469.00 L198.71 468.14 L198.82 467.28 L198.93 466.43 L199.04 465.57 L199.15 464.71 L199.26 463.85 L199.36 462.99 L199.47 462.13 L199.58 461.28 L199.69 460.42 L199.80 459.56 L199.91 458.70 L200.01 457.84 L200.12 456.98 L200.23 456.13 L200.34 455.27 L200.44 454.41 L200.55 453.55 L200.66 452.69 L200.77 451.83 L200.87 450.97 L200.98 450.12 L201.09 449.26 L201.19 448.40 L201.30 447.54 L201.41 446.68 L201.52 445.82 L201.62 444.96 L201.73 444.11 L201.84 443.25 L201.94 442.39 L202.05 441.53 L202.16 440.67 L202.26 439.81 L202.37 438.95 L202.47 438.10 L202.58 437.24 L202.69 436.38 L202.79 435.52 L202.90 434.66 L203.00 433.80 L203.11 432.94 L203.22 432.09 L203.32 431.23 L203.43 430.37 L203.53 429.51 L203.64 428.65 L203.75 427.79 L203.85 426.93 L203.96 426.08 L204.06 425.22 L204.17 424.36 L204.27 423.50 L204.38 422.64 L204.49 421.78 L204.59 420.92 L204.70 420.06 L204.80 419.21 L204.91 418.35 L205.01 417.49 L205.12 416.63 L205.23 415.77 L205.33 414.91 L205.44 414.05 L205.54 413.19 L205.65 412.34 L205.75 411.48 L205.86 410.62 L205.97 409.76 L206.07 408.90 L206.18 408.04 L206.28 407.18 L206.39 406.33 L206.50 405.47 L206.60 404.61 L206.71 403.75 L206.81 402.89 L206.92 402.03 L207.02 401.17 L207.13 400.31 L207.24 399.46 L207.34 398.60 L207.45 397.74 L207.56 396.88 L207.66 396.02 L207.77 395.16 L207.87 394.30 L207.98 393.45 L208.09 392.59 L208.19 391.73 L208.30 390.87 L208.41 390.01 L208.51 389.15 L208.62 388.29 L208.73 387.44 L208.84 386.58 L208.94 385.72 L209.05 384.86 L209.16 384.00 L209.26 383.14 L209.37 382.29 L209.48 381.43 L209.59 380.57 L209.69 379.71 L209.80 378.85 L209.91 377.99 L210.02 377.13 L210.13 376.28 L210.23 375.42 L210.34 374.56 L210.45 373.70 L210.56 372.84 L210.67 371.98 L210.78 371.13 L210.88 370.27 L210.99 369.41 L211.10 368.55 L211.21 367.69 L211.32 366.84 L211.43 365.98 L211.54 365.12 L211.65 364.26 L211.76 363.40 L211.87 362.54 L211.98 361.69 L212.09 360.83 L212.20 359.97 L212.31 359.11 L212.42 358.25 L212.53 357.40 L212.64 356.54 L212.75 355.68 L212.86 354.82 L212.98 353.96 L213.09 353.11 L213.20 352.25 L213.31 351.39 L213.42 350.53 L213.53 349.67 L213.65 348.82 L213.76 347.96 L213.87 347.10 L213.99 346.24 L214.10 345.39 L214.21 344.53 L214.33 343.67 L214.45 342.81 L214.56 341.96 L214.68 341.10 L214.79 340.24 L214.91 339.38 L215.03 338.53 L215.14 337.67 L215.26 336.81 L215.37 335.96 L215.49 335.10 L215.61 334.24 L215.72 333.38 L215.84 332.53 L215.96 331.67 L216.07 330.81 L216.19 329.95 L216.30 329.10 L216.42 328.24 L216.53 327.38 L216.65 326.52 L216.76 325.67 L216.88 324.81 L217.00 323.95 L217.12 323.10 L217.24 322.24 L217.36 321.38 L217.48 320.53 L217.60 319.67 L217.73 318.81 L217.85 317.96 L217.98 317.10 L218.11 316.25 L218.24 315.39 L218.38 314.54 L218.51 313.68 L218.65 312.83 L218.78 311.97 L218.92 311.12 L219.06 310.26 L219.19 309.41 L219.33 308.56 L219.47 307.70 L219.60 306.85 L219.74 305.99 L219.88 305.14 L220.01 304.28 L220.15 303.43 L220.28 302.57 L220.42 301.72 L220.55 300.87 L220.69 300.01 L220.82 299.16 L220.96 298.30 L221.09 297.45 L221.23 296.59 L221.37 295.74 L221.50 294.88 L221.64 294.03 L221.78 293.18 L221.93 292.32 L222.07 291.47 L222.21 290.62 L222.36 289.77 L222.51 288.91 L222.66 288.06 L222.82 287.21 L222.97 286.36 L223.13 285.51 L223.28 284.66 L223.44 283.81 L223.60 282.96 L223.76 282.11 L223.92 281.25 L224.08 280.40 L224.24 279.55 L224.39 278.70 L224.55 277.85 L224.71 277.00 L224.87 276.15 L225.03 275.30 L225.18 274.45 L225.34 273.60 L225.50 272.75 L225.66 271.90 L225.81 271.05 L225.97 270.20 L226.13 269.35 L226.29 268.50 L226.45 267.65 L226.62 266.80 L226.78 265.95 L226.94 265.10 L227.11 264.25 L227.28 263.40 L227.44 262.55 L227.61 261.70 L227.78 260.85 L227.95 260.01 L228.12 259.16 L228.30 258.31 L228.47 257.46 L228.64 256.61 L228.82 255.77 L228.99 254.92 L229.17 254.07 L229.35 253.23 L229.53 252.38 L229.71 251.54 L229.90 250.69 L230.08 249.84 L230.27 249.00 L230.45 248.15 L230.64 247.31 L230.83 246.47 L231.02 245.62 L231.21 244.78 L231.41 243.93 L231.60 243.09 L231.80 242.25 L232.00 241.41 L232.20 240.57 L232.40 239.72 L232.60 238.88 L232.81 238.04 L233.01 237.20 L233.22 236.36 L233.43 235.52 L233.64 234.69 L233.86 233.85 L234.07 233.01 L234.29 232.17 L234.51 231.33 L234.73 230.50 L234.95 229.66 L235.18 228.83 L235.40 227.99 L235.63 227.16 L235.86 226.32 L236.09 225.49 L236.32 224.65 L236.55 223.82 L236.79 222.99 L237.03 222.16 L237.27 221.32 L237.52 220.49 L237.76 219.67 L238.02 218.84 L238.27 218.01 L238.53 217.19 L238.79 216.36 L239.06 215.54 L239.33 214.72 L239.61 213.90 L239.89 213.08 L240.17 212.26 L240.46 211.45 L240.75 210.63 L241.05 209.82 L241.35 209.01 L241.65 208.20 L241.96 207.39 L242.27 206.58 L242.59 205.78 L242.91 204.97 L243.23 204.17 L243.56 203.37 L243.90 202.57 L244.24 201.78 L244.58 200.98 L244.94 200.19 L245.29 199.41 L245.66 198.62 L246.02 197.83 L246.40 197.05 L246.78 196.27 L247.17 195.50 L247.57 194.73 L247.98 193.97 L248.40 193.22 L248.84 192.48 L249.29 191.74 L249.76 191.01 L250.23 190.29 L250.71 189.57 L251.20 188.85 L251.68 188.13 L252.16 187.41 L252.64 186.69 L253.13 185.97 L253.62 185.26 L254.11 184.55 L254.60 183.84 L255.10 183.13 L255.61 182.43 L256.11 181.73 L256.62 181.02 L257.12 180.32 L257.64 179.62 L258.16 178.92 L258.68 178.24 L259.22 177.57 L259.78 176.91 L260.34 176.24 L260.91 175.57 L261.50 174.91 L262.10 174.27 L262.72 173.67 L263.37 173.12 L264.05 172.63 L264.77 172.20 L265.54 171.81 L266.34 171.44 L267.14 171.08 L267.94 170.72 L268.72 170.35 L269.50 169.96 L270.29 169.58 L271.08 169.22 L271.87 168.89 L272.68 168.61 L273.51 168.36 L274.34 168.14 L275.19 167.93 L276.04 167.75 L276.89 167.59 L277.74 167.47 L278.60 167.34 L279.46 167.23 L280.32 167.13 L281.19 167.05 L282.05 167.01 L282.91 167.00 L283.78 167.01 L284.65 167.04 L285.51 167.07 L286.38 167.12 L287.24 167.17 L288.10 167.24 L288.96 167.38 L289.81 167.59 L290.62 167.84 L291.42 168.17 L292.20 168.60 L292.92 169.07 L293.58 169.58 L294.20 170.14 L294.78 170.76 L295.34 171.42 L295.89 172.11 L296.42 172.81 L296.95 173.52 L297.49 174.23 L298.03 174.92 L298.60 175.58 L299.19 176.21 L299.80 176.83 L300.41 177.44 L301.03 178.05 L301.65 178.65 L302.27 179.26 L302.88 179.87 L303.48 180.50 L304.07 181.12 L304.66 181.75 L305.25 182.39 L305.84 183.02 L306.43 183.65 L307.02 184.28 L307.62 184.91 L308.21 185.55 L308.79 186.21 L309.37 186.87 L309.94 187.54 L310.53 188.19 L311.12 188.83 L311.73 189.43 L312.36 190.00 L313.02 190.52 L313.72 191.04 L314.44 191.58 L315.19 192.13 L315.96 192.62 L316.75 193.04 L317.54 193.34 L318.35 193.49 L319.16 193.50 L320.00 193.50 L320.85 193.50 L321.72 193.50 L322.60 193.50 L323.48 193.50 L324.37 193.50 L325.25 193.50 L326.12 193.50 L326.98 193.50 L327.84 193.48 L328.70 193.42 L329.55 193.31 L330.40 193.18 L331.26 193.02 L332.11 192.82 L332.96 192.61 L333.80 192.38 L334.65 192.14 L335.49 191.89 L336.32 191.63 L337.16 191.37 L337.98 191.11 L338.81 190.86 L339.63 190.61 L340.44 190.33 L341.25 190.04 L342.05 189.72 L342.85 189.39 L343.65 189.05 L344.45 188.70 L345.24 188.33 L346.03 187.96 L346.82 187.59 L347.60 187.22 L348.38 186.85 L349.16 186.48 L349.93 186.09 L350.70 185.68 L351.46 185.27 L352.22 184.84 L352.97 184.41 L353.73 183.98 L354.48 183.56 L355.24 183.14 L356.01 182.73 L356.77 182.34 L357.55 181.97 L358.33 181.62 L359.13 181.27 L359.92 180.93 L360.72 180.58 L361.52 180.24 L362.33 179.90 L363.14 179.57 L363.96 179.25 L364.77 178.95 L365.59 178.66 L366.42 178.38 L367.24 178.13 L368.07 177.90 L368.91 177.69 L369.74 177.52 L370.58 177.37 L371.42 177.22 L372.27 177.07 L373.12 176.92 L373.98 176.78 L374.84 176.65 L375.70 176.52 L376.57 176.41 L377.43 176.31 L378.30 176.21 L379.16 176.14 L380.03 176.08 L380.90 176.03 L381.76 176.01 L382.62 176.00 L383.48 176.01 L384.35 176.04 L385.21 176.08 L386.08 176.14 L386.94 176.20 L387.81 176.27 L388.67 176.35 L389.54 176.44 L390.40 176.53 L391.26 176.62 L392.11 176.71 L392.97 176.82 L393.83 176.94 L394.69 177.07 L395.55 177.22 L396.41 177.39 L397.26 177.56 L398.12 177.75 L398.96 177.96 L399.80 178.17 L400.64 178.39 L401.46 178.62 L402.27 178.86 L403.08 179.12 L403.88 179.41 L404.66 179.74 L405.45 180.09 L406.22 180.47 L407.00 180.87 L407.76 181.29 L408.53 181.72 L409.29 182.16 L410.04 182.60 L410.80 183.05 L411.55 183.49 L412.31 183.93 L413.06 184.36 L413.81 184.79 L414.56 185.22 L415.31 185.65 L416.06 186.09 L416.80 186.53 L417.54 186.98 L418.28 187.43 L419.02 187.88 L419.75 188.34 L420.49 188.79 L421.22 189.26 L421.95 189.72 L422.69 190.18 L423.42 190.65 L424.15 191.11 L424.87 191.58 L425.60 192.04 L426.33 192.51 L427.05 192.99 L427.77 193.46 L428.49 193.94 L429.21 194.42 L429.93 194.91 L430.65 195.39 L431.37 195.87 L432.08 196.36 L432.80 196.84 L433.52 197.33 L434.23 197.81 L434.95 198.30 L435.67 198.78 L436.39 199.26 L437.11 199.74 L437.82 200.23 L438.53 200.73 L439.24 201.23 L439.95 201.74 L440.66 202.25 L441.37 202.76 L442.08 203.26 L442.78 203.77 L443.50 204.27 L444.21 204.76 L444.93 205.25 L445.65 205.72 L446.38 206.18 L447.11 206.63 L447.85 207.06 L448.60 207.48 L449.35 207.88 L450.12 208.26 L450.89 208.64 L451.67 209.01 L452.45 209.37 L453.24 209.72 L454.04 210.06 L454.84 210.40 L455.65 210.73 L456.45 211.05 L457.26 211.37 L458.08 211.68 L458.89 211.99 L459.70 212.29 L460.52 212.59 L461.33 212.89 L462.14 213.19 L462.95 213.48 L463.77 213.76 L464.59 214.03 L465.41 214.31 L466.23 214.57 L467.06 214.84 L467.88 215.10 L468.71 215.35 L469.54 215.61 L470.36 215.86 L471.19 216.12 L472.02 216.37 L472.85 216.62 L473.68 216.87 L474.51 217.13 L475.33 217.38 L476.16 217.64 L476.98 217.90 L477.81 218.16 L478.63 218.43 L479.46 218.69 L480.28 218.95 L481.11 219.21 L481.93 219.47 L482.76 219.73 L483.58 219.99 L484.41 220.24 L485.24 220.50 L486.06 220.75 L486.89 221.00 L487.72 221.25 L488.55 221.49 L489.38 221.74 L490.21 221.98 L491.04 222.21 L491.88 222.45 L492.71 222.68 L493.54 222.91 L494.38 223.14 L495.21 223.36 L496.05 223.59 L496.88 223.81 L497.72 224.03 L498.56 224.25 L499.39 224.47 L500.23 224.70 L501.07 224.92 L501.90 225.14 L502.74 225.36 L503.58 225.58 L504.41 225.80 L505.25 226.02 L506.09 226.24 L506.92 226.46 L507.76 226.68 L508.60 226.90 L509.43 227.12 L510.27 227.34 L511.11 227.55 L511.95 227.77 L512.78 227.99 L513.62 228.20 L514.46 228.42 L515.30 228.64 L516.13 228.86 L516.97 229.07 L517.81 229.29 L518.65 229.51 L519.48 229.73 L520.21 229.92 M520.21 229.92L536.35 234.23 M536.52 234.28L552.84 237.85 M553.60 238.02L569.90 241.62 M571.46 241.97L587.69 245.91 M590.17 246.51L606.57 249.63 M609.74 250.23L626.18 253.19 M630.23 253.92L646.81 255.92 M651.68 256.51L668.21 258.87 M674.12 259.72L690.58 262.55 M697.62 263.76L713.99 267.05 M722.21 268.70L738.54 272.18 M747.94 274.19L764.34 277.38" stroke="#000" stroke-width="1.10" fill="none"/>
<path d="M190.17 464.50H208.17M199.17 455.50V473.50M191.50 453.96H209.50M200.50 444.96V462.96M192.89 442.81H210.89M201.89 433.81V451.81M194.34 431.06H212.34M203.34 422.06V440.06M195.87 418.70H213.87M204.87 409.70V427.70M197.46 405.77H215.46M206.46 396.77V414.77M199.12 392.29H217.12M208.12 383.29V401.29M200.87 378.31H218.87M209.87 369.31V387.31M202.70 363.90H220.70M211.70 354.90V372.90M204.61 349.11H222.61M213.61 340.11V358.11M206.61 334.24H224.61M215.61 325.24V343.24M208.70 318.99H226.70M217.70 309.99V327.99M210.89 305.04H228.89M219.89 296.04V314.04M213.19 290.77H231.19M222.19 281.77V299.77M215.59 277.66H233.59M224.59 268.66V286.66M218.10 264.29H236.10M227.10 255.29V273.29M220.73 251.45H238.73M229.73 242.45V260.45M223.49 239.36H241.49M232.49 230.36V248.36M226.37 228.12H244.37M235.37 219.12V237.12M229.38 217.65H247.38M238.38 208.65V226.65M232.54 208.49H250.54M241.54 199.49V217.49M235.85 200.40H253.85M244.85 191.40V209.40M239.30 193.39H257.30M248.30 184.39V202.39M242.92 187.76H260.92M251.92 178.76V196.76M246.71 182.28H264.71M255.71 173.28V191.28M250.68 177.02H268.68M259.68 168.02V186.02M254.83 172.78H272.83M263.83 163.78V181.78M259.18 170.61H277.18M268.18 161.61V179.61M263.72 168.59H281.72M272.72 159.59V177.59M268.48 167.50H286.48M277.48 158.50V176.50M273.46 167.00H291.46M282.46 158.00V176.00M278.68 167.20H296.68M287.68 158.20V176.20M284.14 169.23H302.14M293.14 160.23V178.23M289.85 175.85H307.85M298.85 166.85V184.85M295.83 181.93H313.83M304.83 172.93V190.93M302.09 188.79H320.09M311.09 179.79V197.79M308.64 193.37H326.64M317.64 184.37V202.37M315.49 193.50H333.49M324.49 184.50V202.50M322.67 192.93H340.67M331.67 183.93V201.93M330.18 190.75H348.18M339.18 181.75V199.75M338.04 187.49H356.04M347.04 178.49V196.49M346.27 183.12H364.27M355.27 174.12V192.12M354.88 179.28H372.88M363.88 170.28V188.28M363.90 176.96H381.90M372.90 167.96V185.96M373.33 176.00H391.33M382.33 167.00V185.00M383.21 176.72H401.21M392.21 167.72V185.72M393.54 178.94H411.54M402.54 169.94V187.94M404.36 184.53H422.36M413.36 175.53V193.53M415.68 191.45H433.68M424.68 182.45V200.45M427.54 199.36H445.54M436.54 190.36V208.36M439.94 207.66H457.94M448.94 198.66V216.66M452.93 213.11H470.93M461.93 204.11V222.11M466.52 217.44H484.52M475.52 208.44V226.44M480.74 221.84H498.74M489.74 212.84V230.84M495.63 225.85H513.63M504.63 216.85V234.85M511.21 229.92H529.21M520.21 220.92V238.92M527.52 234.28H545.52M536.52 225.28V243.28M544.60 238.02H562.60M553.60 229.02V247.02M562.46 241.97H580.46M571.46 232.97V250.97M581.17 246.51H599.17M590.17 237.51V255.51M600.74 250.23H618.74M609.74 241.23V259.23M621.23 253.92H639.23M630.23 244.92V262.92M642.68 256.51H660.68M651.68 247.51V265.51M665.12 259.72H683.12M674.12 250.72V268.72M688.62 263.76H706.62M697.62 254.76V272.76M713.21 268.70H731.21M722.21 259.70V277.70M738.94 274.19H756.94M747.94 265.19V283.19M765.88 279.44H783.88M774.88 270.44V288.44" stroke="#000" stroke-width="1.05" fill="none"/>
<path d="M190.85 30.00 L190.86 31.02 L190.87 32.04 L190.88 33.06 L190.89 34.08 L190.89 35.10 L190.90 36.12 L190.91 37.14 L190.92 38.16 L190.93 39.18 L190.93 40.20 L190.94 41.22 L190.95 42.24 L190.95 43.26 L190.96 44.28 L190.97 45.30 L190.97 46.32 L190.98 47.35 L190.98 48.37 L190.98 49.39 L190.99 50.41 L190.99 51.43 L190.99 52.45 L191.00 53.47 L191.00 54.49 L191.00 55.51 L191.00 56.53 L191.00 57.55 L191.00 58.57 L191.00 59.59 L191.00 60.61 L191.00 61.63 L191.00 62.65 L191.00 63.67 L191.00 64.69 L191.00 65.71 L191.00 66.74 L191.00 67.76 L191.00 68.78 L191.00 69.80 L191.00 70.82 L191.00 71.84 L191.00 72.85 L191.00 73.87 L190.96 74.89 L190.86 75.91 L190.75 76.93 L190.70 77.94 L190.70 78.96 L190.70 79.98 L190.70 81.00 L190.70 82.03 L190.70 83.05 L190.70 84.07 L190.70 85.09 L190.70 86.11 L190.70 87.13 L190.70 88.15 L190.77 89.16 L190.91 90.18 L191.04 91.19 L191.11 92.21 L191.14 93.23 L191.18 94.24 L191.20 95.26 L191.23 96.28 L191.25 97.30 L191.27 98.32 L191.28 99.34 L191.30 100.36 L191.31 101.39 L191.33 102.41 L191.34 103.43 L191.36 104.45 L191.37 105.47 L191.39 106.49 L191.41 107.51 L191.44 108.53 L191.46 109.55 L191.48 110.57 L191.50 111.59 L191.52 112.61 L191.54 113.63 L191.56 114.65 L191.58 115.67 L191.60 116.69 L191.62 117.71 L191.64 118.73 L191.67 119.75 L191.69 120.77 L191.71 121.79 L191.73 122.81 L191.75 123.83 L191.77 124.85 L191.79 125.87 L191.81 126.89 L191.83 127.91 L191.85 128.93 L191.88 129.95 L191.90 130.97 L191.92 131.99 L191.94 133.01 L191.96 134.03 L191.98 135.05 L192.00 136.07 L192.03 137.09 L192.05 138.11 L192.07 139.13 L192.09 140.15 L192.11 141.17 L192.14 142.19 L192.16 143.21 L192.18 144.23 L192.20 145.25 L192.23 146.27 L192.25 147.29 L192.27 148.31 L192.29 149.33 L192.32 150.35 L192.34 151.37 L192.36 152.39 L192.39 153.41 L192.41 154.43 L192.43 155.45 L192.46 156.47 L192.48 157.49 L192.51 158.51 L192.53 159.53 L192.55 160.55 L192.58 161.57 L192.60 162.59 L192.63 163.61 L192.65 164.63 L192.68 165.65 L192.70 166.67 L192.73 167.69 L192.75 168.71 L192.78 169.73 L192.80 170.75 L192.83 171.77 L192.85 172.79 L192.88 173.81 L192.90 174.83 L192.93 175.85 L192.96 176.87 L192.98 177.89 L193.01 178.91 L193.04 179.93 L193.06 180.95 L193.09 181.97 L193.12 182.99 L193.14 184.01 L193.17 185.03 L193.20 186.05 L193.23 187.07 L193.25 188.09 L193.28 189.11 L193.31 190.13 L193.34 191.15 L193.37 192.17 L193.39 193.19 L193.42 194.21 L193.45 195.23 L193.48 196.25 L193.51 197.27 L193.54 198.29 L193.57 199.31 L193.60 200.33 L193.63 201.35 L193.66 202.37 L193.69 203.39 L193.72 204.41 L193.75 205.43 L193.78 206.45 L193.81 207.47 L193.84 208.49 L193.87 209.51 L193.90 210.53 L193.94 211.55 L193.97 212.57 L194.00 213.59 L194.03 214.61 L194.07 215.63 L194.10 216.65 L194.13 217.67 L194.17 218.69 L194.20 219.71 L194.24 220.73 L194.27 221.75 L194.30 222.77 L194.34 223.79 L194.38 224.81 L194.41 225.83 L194.45 226.85 L194.48 227.87 L194.52 228.89 L194.56 229.91 L194.59 230.93 L194.63 231.95 L194.67 232.97 L194.71 233.99 L194.75 235.00 L194.79 236.02 L194.83 237.04 L194.87 238.06 L194.91 239.08 L194.95 240.10 L194.99 241.12 L195.03 242.14 L195.07 243.16 L195.11 244.18 L195.16 245.20 L195.20 246.22 L195.25 247.24 L195.29 248.26 L195.34 249.28 L195.38 250.30 L195.43 251.32 L195.48 252.33 L195.53 253.35 L195.58 254.37 L195.63 255.39 L195.68 256.41 L195.73 257.43 L195.78 258.45 L195.84 259.47 L195.89 260.49 L195.95 261.51 L196.01 262.52 L196.06 263.54 L196.12 264.56 L196.18 265.58 L196.24 266.60 L196.30 267.62 L196.36 268.64 L196.43 269.65 L196.49 270.67 L196.55 271.69 L196.62 272.71 L196.68 273.73 L196.75 274.75 L196.81 275.76 L196.88 276.78 L196.95 277.80 L197.01 278.82 L197.08 279.84 L197.15 280.86 L197.22 281.87 L197.29 282.89 L197.37 283.91 L197.44 284.93 L197.52 285.94 L197.60 286.96 L197.68 287.98 L197.77 288.99 L197.86 290.01 L197.95 291.03 L198.04 292.04 L198.15 293.06 L198.25 294.07 L198.37 295.09 L198.48 296.10 L198.60 297.11 L198.72 298.13 L198.84 299.14 L198.97 300.15 L199.09 301.17 L199.22 302.18 L199.35 303.19 L199.48 304.20 L199.62 305.21 L199.75 306.23 L199.90 307.24 L200.04 308.25 L200.19 309.26 L200.35 310.26 L200.51 311.27 L200.68 312.28 L200.86 313.28 L201.05 314.28 L201.24 315.29 L201.45 316.29 L201.66 317.28 L201.87 318.28 L202.09 319.28 L202.32 320.28 L202.56 321.27 L202.81 322.26 L203.09 323.24 L203.40 324.20 L203.78 325.15 L204.21 326.08 L204.64 327.01 L205.04 327.95 L205.42 328.90 L205.78 329.85 L206.16 330.80 L206.56 331.73 L206.99 332.66 L207.44 333.58 L207.92 334.48 L208.44 335.35 L209.01 336.20 L209.62 337.03 L210.23 337.85 L210.87 338.69 L211.57 339.40 L212.43 339.98 L213.39 340.38 L214.29 340.18 L215.14 339.47 L215.84 338.73 L216.42 337.92 L216.94 337.01 L217.41 336.07 L217.87 335.16 L218.31 334.24 L218.73 333.31 L219.12 332.37 L219.51 331.42 L219.88 330.47 L220.23 329.51 L220.57 328.55 L220.89 327.58 L221.21 326.61 L221.53 325.64 L221.84 324.67 L222.17 323.70 L222.49 322.73 L222.81 321.76 L223.13 320.80 L223.45 319.83 L223.78 318.86 L224.11 317.89 L224.45 316.93 L224.79 315.97 L225.15 315.02 L225.51 314.06 L225.87 313.11 L226.24 312.16 L226.62 311.21 L227.00 310.26 L227.37 309.31 L227.76 308.37 L228.14 307.42 L228.53 306.48 L228.92 305.54 L229.32 304.60 L229.72 303.66 L230.12 302.72 L230.54 301.79 L230.95 300.86 L231.37 299.93 L231.80 299.00 L232.23 298.07 L232.67 297.15 L233.11 296.23 L233.56 295.32 L234.01 294.40 L234.47 293.49 L234.94 292.58 L235.41 291.68 L235.89 290.78 L236.39 289.89 L236.89 289.00 L237.39 288.11 L237.89 287.22 L238.38 286.33 L238.87 285.43 L239.34 284.53 L239.82 283.62 L240.29 282.72 L240.77 281.82 L241.26 280.92 L241.77 280.04 L242.29 279.16 L242.82 278.29 L243.36 277.43 L243.90 276.56 L244.44 275.69 L244.97 274.82 L245.50 273.95 L246.02 273.07 L246.55 272.20 L247.07 271.32 L247.60 270.45 L248.13 269.58 L248.67 268.71 L249.20 267.84 L249.74 266.98 L250.29 266.11 L250.83 265.25 L251.38 264.39 L251.94 263.54 L252.50 262.69 L253.07 261.84 L253.65 261.00 L254.22 260.15 L254.80 259.31 L255.38 258.47 L255.95 257.63 L256.53 256.79 L257.10 255.94 L257.68 255.10 L258.26 254.26 L258.84 253.42 L259.43 252.59 L260.02 251.76 L260.62 250.93 L261.22 250.11 L261.83 249.29 L262.44 248.47 L263.04 247.65 L263.64 246.82 L264.23 245.99 L264.82 245.15 L265.39 244.31 L265.97 243.47 L266.55 242.63 L267.13 241.79 L267.72 240.96 L268.32 240.13 L268.93 239.32 L269.55 238.50 L270.17 237.70 L270.80 236.89 L271.43 236.09 L272.07 235.29 L272.70 234.49 L273.34 233.70 L273.99 232.91 L274.64 232.12 L275.29 231.34 L275.95 230.55 L276.60 229.77 L277.26 228.99 L277.91 228.21 L278.57 227.43 L279.23 226.65 L279.90 225.88 L280.56 225.10 L281.22 224.32 L281.88 223.54 L282.53 222.76 L283.18 221.97 L283.82 221.18 L284.46 220.39 L285.10 219.59 L285.74 218.79 L286.38 218.00 L287.03 217.21 L287.68 216.43 L288.34 215.65 L289.00 214.88 L289.68 214.11 L290.35 213.34 L291.02 212.57 L291.70 211.81 L292.37 211.04 L293.04 210.27 L293.70 209.50 L294.37 208.72 L295.04 207.95 L295.70 207.18 L296.36 206.40 L297.02 205.62 L297.68 204.84 L298.34 204.06 L298.99 203.27 L299.63 202.48 L300.26 201.68 L300.89 200.88 L301.52 200.07 L302.15 199.27 L302.78 198.47 L303.42 197.67 L304.06 196.88 L304.72 196.10 L305.38 195.33 L306.06 194.57 L306.75 193.81 L307.44 193.06 L308.14 192.31 L308.83 191.57 L309.53 190.82 L310.22 190.07 L310.91 189.32 L311.59 188.55 L312.26 187.79 L312.92 187.01 L313.57 186.23 L314.22 185.44 L314.86 184.64 L315.50 183.85 L316.13 183.05 L316.76 182.25 L317.40 181.45 L318.04 180.65 L318.68 179.86 L319.33 179.07 L319.98 178.29 L320.63 177.50 L321.28 176.71 L321.93 175.91 L322.58 175.12 L323.23 174.32 L323.89 173.53 L324.54 172.74 L325.21 171.96 L325.88 171.19 L326.56 170.43 L327.25 169.68 L327.95 168.95 L328.66 168.23 L329.39 167.54 L330.14 166.86 L330.89 166.19 L331.67 165.53 L332.46 164.88 L333.26 164.24 L334.07 163.61 L334.88 162.99 L335.71 162.38 L336.55 161.78 L337.39 161.19 L338.23 160.61 L339.08 160.04 L339.93 159.48 L340.78 158.93 L341.64 158.39 L342.52 157.87 L343.40 157.36 L344.29 156.86 L345.19 156.36 L346.09 155.87 L346.99 155.39 L347.89 154.91 L348.79 154.43 L349.69 153.95 L350.59 153.47 L351.50 152.98 L352.40 152.50 L353.31 152.03 L354.22 151.56 L355.14 151.11 L356.06 150.67 L356.98 150.25 L357.92 149.85 L358.86 149.48 L359.81 149.12 L360.77 148.78 L361.73 148.45 L362.70 148.12 L363.68 147.81 L364.65 147.51 L365.63 147.21 L366.61 146.91 L367.59 146.62 L368.57 146.33 L369.55 146.05 L370.53 145.78 L371.52 145.52 L372.50 145.26 L373.49 145.00 L374.48 144.74 L375.47 144.49 L376.46 144.24 L377.45 143.98 L378.43 143.72 L379.42 143.46 L380.40 143.19 L381.38 142.91 L382.37 142.62 L383.34 142.33 L384.32 142.03 L385.30 141.74 L386.28 141.44 L387.26 141.14 L388.24 140.85 L389.22 140.56 L390.20 140.28 L391.18 140.01 L392.17 139.75 L393.15 139.51 L394.14 139.28 L395.14 139.06 L396.13 138.84 L397.13 138.62 L398.13 138.40 L399.13 138.19 L400.14 137.98 L401.14 137.77 L402.15 137.58 L403.16 137.40 L404.17 137.23 L405.18 137.08 L406.19 136.95 L407.20 136.83 L408.21 136.75 L409.22 136.68 L410.23 136.63 L411.25 136.57 L412.27 136.52 L413.28 136.47 L414.30 136.42 L415.32 136.37 L416.34 136.33 L417.36 136.29 L418.38 136.25 L419.40 136.22 L420.43 136.19 L421.45 136.16 L422.47 136.14 L423.49 136.11 L424.51 136.10 L425.54 136.08 L426.56 136.08 L427.58 136.07 L428.60 136.07 L429.62 136.07 L430.64 136.07 L431.66 136.08 L432.68 136.08 L433.70 136.09 L434.73 136.09 L435.75 136.10 L436.77 136.11 L437.79 136.12 L438.81 136.13 L439.83 136.14 L440.86 136.16 L441.88 136.17 L442.90 136.18 L443.91 136.20 L444.93 136.22 L445.95 136.23 L446.97 136.25 L447.98 136.27 L449.00 136.31 L450.01 136.37 L451.03 136.45 L452.04 136.55 L453.05 136.66 L454.06 136.79 L455.08 136.93 L456.09 137.08 L457.10 137.24 L458.11 137.41 L459.12 137.58 L460.13 137.75 L461.14 137.93 L462.15 138.12 L463.15 138.30 L464.16 138.47 L465.17 138.65 L466.18 138.82 L467.18 138.98 L468.19 139.14 L469.19 139.32 L470.20 139.49 L471.20 139.68 L472.20 139.86 L473.21 140.05 L474.21 140.24 L475.21 140.44 L476.21 140.63 L477.21 140.83 L478.21 141.03 L479.22 141.24 L480.22 141.44 L481.22 141.64 L482.22 141.84 L483.22 142.04 L484.22 142.24 L485.22 142.44 L486.22 142.63 L487.22 142.83 L488.23 143.02 L489.23 143.21 L490.23 143.40 L491.23 143.59 L492.24 143.78 L493.24 143.97 L494.24 144.16 L495.25 144.35 L496.25 144.55 L497.25 144.74 L498.25 144.94 L499.25 145.13 L500.25 145.34 L501.25 145.54 L502.25 145.75 L503.25 145.96 L504.25 146.17 L505.24 146.39 L506.24 146.61 L507.23 146.84 L508.22 147.07 L509.22 147.30 L510.21 147.54 L511.20 147.78 L512.19 148.03 L513.18 148.28 L514.17 148.53 L515.16 148.78 L516.15 149.04 L517.13 149.30 L518.12 149.56 L519.11 149.82 L520.09 150.08 L520.21 150.11 M520.21 150.11L536.27 154.70 M536.52 154.77L552.11 160.77 M553.60 161.34L568.23 169.39 M571.46 171.16L585.97 179.44 M590.17 181.84L604.36 190.64 M609.74 193.98L624.52 201.76 M630.23 204.76L645.35 211.86 M651.68 214.84L666.64 222.25 M674.12 225.96L689.45 232.60 M697.62 236.14L712.89 242.89 M722.21 247.00L737.78 253.04 M747.94 256.98L763.80 262.23" stroke="#0082ff" stroke-width="1.10" fill="none"/>
<path d="M182.40 106.86H200.40M191.40 97.86V115.86M183.37 152.51H201.37M192.37 143.51V161.51M184.37 192.50H202.37M193.37 183.50V201.50M185.43 226.39H203.43M194.43 217.39V235.39M186.54 253.57H204.54M195.54 244.57V262.57M187.69 273.91H205.69M196.69 264.91V282.91M188.91 290.56H206.91M197.91 281.56V299.56M190.17 301.79H208.17M199.17 292.79V310.79M191.50 311.20H209.50M200.50 302.20V320.20M192.89 318.35H210.89M201.89 309.35V327.35M194.34 324.03H212.34M203.34 315.03V333.03M195.87 327.52H213.87M204.87 318.52V336.52M197.46 331.50H215.46M206.46 322.50V340.50M199.12 334.84H217.12M208.12 325.84V343.84M200.87 337.36H218.87M209.87 328.36V346.36M202.70 339.50H220.70M211.70 330.50V348.50M204.61 340.40H222.61M213.61 331.40V349.40M206.61 338.99H224.61M215.61 329.99V347.99M208.70 335.50H226.70M217.70 326.50V344.50M210.89 330.42H228.89M219.89 321.42V339.42M213.19 323.64H231.19M222.19 314.64V332.64M215.59 316.53H233.59M224.59 307.53V325.53M218.10 309.99H236.10M227.10 300.99V318.99M220.73 303.62H238.73M229.73 294.62V312.62M223.49 297.53H241.49M232.49 288.53V306.53M226.37 291.76H244.37M235.37 282.76V300.76M229.38 286.33H247.38M238.38 277.33V295.33M232.54 280.43H250.54M241.54 271.43V289.43M235.85 275.02H253.85M244.85 266.02V284.02M239.30 269.29H257.30M248.30 260.29V278.29M242.92 263.56H260.92M251.92 254.56V272.56M246.71 257.98H264.71M255.71 248.98V266.98M250.68 252.23H268.68M259.68 243.23V261.23M254.83 246.56H272.83M263.83 237.56V255.56M259.18 240.33H277.18M268.18 231.33V249.33M263.72 234.47H281.72M272.72 225.47V243.47M268.48 228.72H286.48M277.48 219.72V237.72M273.46 222.84H291.46M282.46 213.84V231.84M278.68 216.42H296.68M287.68 207.42V225.42M284.14 210.16H302.14M293.14 201.16V219.16M289.85 203.44H307.85M298.85 194.44V212.44M295.83 195.97H313.83M304.83 186.97V204.97M302.09 189.12H320.09M311.09 180.12V198.12M308.64 181.15H326.64M317.64 172.15V190.15M315.49 172.80H333.49M324.49 163.80V181.80M322.67 165.53H340.67M331.67 156.53V174.53M330.18 159.97H348.18M339.18 150.97V168.97M338.04 155.36H356.04M347.04 146.36V164.36M346.27 151.04H364.27M355.27 142.04V160.04M354.88 147.75H372.88M363.88 138.75V156.75M363.90 145.15H381.90M372.90 136.15V154.15M373.33 142.63H391.33M382.33 133.63V151.63M383.21 139.74H401.21M392.21 130.74V148.74M393.54 137.51H411.54M402.54 128.51V146.51M404.36 136.46H422.36M413.36 127.46V145.46M415.68 136.10H433.68M424.68 127.10V145.10M427.54 136.11H445.54M436.54 127.11V145.11M439.94 136.31H457.94M448.94 127.31V145.31M452.93 138.08H470.93M461.93 129.08V147.08M466.52 140.50H484.52M475.52 131.50V149.50M480.74 143.31H498.74M489.74 134.31V152.31M495.63 146.25H513.63M504.63 137.25V155.25M511.21 150.11H529.21M520.21 141.11V159.11M527.52 154.77H545.52M536.52 145.77V163.77M544.60 161.34H562.60M553.60 152.34V170.34M562.46 171.16H580.46M571.46 162.16V180.16M581.17 181.84H599.17M590.17 172.84V190.84M600.74 193.98H618.74M609.74 184.98V202.98M621.23 204.76H639.23M630.23 195.76V213.76M642.68 214.84H660.68M651.68 205.84V223.84M665.12 225.96H683.12M674.12 216.96V234.96M688.62 236.14H706.62M697.62 227.14V245.14M713.21 247.00H731.21M722.21 238.00V256.00M738.94 256.98H756.94M747.94 247.98V265.98M765.88 265.89H783.88M774.88 256.89V274.89" stroke="#0082ff" stroke-width="1.05" fill="none"/>
<path d="M184.50 110.00 L185.41 109.99 L186.24 109.94 L187.00 109.87 L187.68 109.77 L188.29 109.64 L188.84 109.49 L189.32 108.96 L189.66 108.26 L189.91 107.43 L190.13 106.50 L190.31 105.66 L190.45 105.11 L190.53 105.01 L190.60 105.12 L190.66 105.33 L190.72 105.65 L190.77 106.07 L190.82 106.58 L190.86 107.16 L190.90 107.82 L190.94 108.55 L190.97 109.33 L191.01 110.17 L191.04 111.04 L191.06 111.95 L191.09 112.89 L191.12 113.85 L191.14 114.81 L191.17 115.79 L191.20 116.75 L191.22 117.71 L191.25 118.65 L191.28 119.56 L191.31 120.44 L191.35 121.27 L191.38 122.05 L191.42 122.79 L191.46 123.52 L191.50 124.25 L191.54 124.98 L191.58 125.71 L191.62 126.44 L191.65 127.17 L191.69 127.90 L191.73 128.62 L191.77 129.35 L191.81 130.08 L191.85 130.81 L191.89 131.54 L191.93 132.27 L191.97 133.00 L192.01 133.73 L192.06 134.46 L192.10 135.19 L192.14 135.92 L192.19 136.65 L192.23 137.37 L192.28 138.10 L192.32 138.83 L192.37 139.56 L192.42 140.29 L192.47 141.02 L192.52 141.75 L192.56 142.48 L192.61 143.21 L192.66 143.94 L192.71 144.67 L192.76 145.40 L192.81 146.12 L192.87 146.85 L192.92 147.58 L192.98 148.31 L193.05 149.04 L193.11 149.76 L193.18 150.49 L193.26 151.22 L193.34 151.94 L193.42 152.66 L193.52 153.38 L193.64 154.10 L193.77 154.82 L193.91 155.54 L194.05 156.26 L194.20 156.97 L194.34 157.69 L194.48 158.41 L194.62 159.13 L194.76 159.84 L194.90 160.56 L195.04 161.28 L195.19 161.99 L195.34 162.71 L195.48 163.42 L195.63 164.14 L195.79 164.85 L195.94 165.56 L196.10 166.28 L196.26 166.99 L196.41 167.70 L196.57 168.42 L196.73 169.13 L196.88 169.84 L197.04 170.56 L197.19 171.27 L197.34 171.98 L197.50 172.70 L197.66 173.41 L197.82 174.12 L197.97 174.84 L198.13 175.56 L198.27 176.28 L198.42 177.00 L198.58 177.72 L198.74 178.43 L198.93 179.13 L199.14 179.82 L199.39 180.56 L199.69 181.42 L200.05 182.14 L200.45 182.49 L200.96 182.27 L201.56 181.69 L202.05 181.11 L202.44 180.50 L202.79 179.85 L203.12 179.18 L203.44 178.52 L203.76 177.87 L204.08 177.21 L204.39 176.54 L204.67 175.87 L204.94 175.19 L205.18 174.51 L205.41 173.82 L205.63 173.12 L205.84 172.42 L206.05 171.72 L206.26 171.01 L206.48 170.32 L206.70 169.62 L206.93 168.93 L207.15 168.23 L207.38 167.54 L207.61 166.84 L207.84 166.15 L208.07 165.46 L208.31 164.77 L208.54 164.08 L208.78 163.38 L209.02 162.69 L209.26 162.00 L209.51 161.32 L209.77 160.64 L210.04 159.96 L210.31 159.28 L210.60 158.60 L210.89 157.92 L211.20 157.26 L211.54 156.62 L211.90 156.00 L212.29 155.39 L212.70 154.79 L213.15 154.20 L213.61 153.63 L214.08 153.06 L214.57 152.50 L215.07 151.96 L215.58 151.43 L216.08 150.92 L216.59 150.41 L217.11 149.89 L217.63 149.37 L218.16 148.84 L218.71 148.32 L219.25 147.80 L219.81 147.28 L220.37 146.77 L220.94 146.27 L221.52 145.78 L222.10 145.30 L222.69 144.84 L223.28 144.39 L223.88 143.96 L224.49 143.55 L225.10 143.16 L225.72 142.79 L226.34 142.45 L226.97 142.14 L227.60 141.86 L228.24 141.61 L228.88 141.36 L229.55 141.12 L230.22 140.87 L230.90 140.63 L231.60 140.39 L232.30 140.16 L233.01 139.93 L233.72 139.72 L234.44 139.51 L235.17 139.31 L235.90 139.12 L236.63 138.95 L237.37 138.79 L238.10 138.65 L238.84 138.53 L239.57 138.42 L240.30 138.33 L241.03 138.27 L241.75 138.22 L242.47 138.20 L243.18 138.21 L243.90 138.23 L244.62 138.28 L245.34 138.35 L246.07 138.44 L246.80 138.55 L247.52 138.67 L248.25 138.81 L248.98 138.96 L249.71 139.12 L250.43 139.30 L251.15 139.48 L251.87 139.67 L252.59 139.87 L253.30 140.08 L254.01 140.28 L254.71 140.50 L255.41 140.71 L256.09 140.92 L256.78 141.13 L257.45 141.35 L258.12 141.59 L258.77 141.86 L259.43 142.16 L260.07 142.48 L260.71 142.82 L261.35 143.17 L261.98 143.54 L262.61 143.93 L263.23 144.32 L263.86 144.72 L264.48 145.13 L265.10 145.54 L265.73 145.95 L266.35 146.36 L266.98 146.76 L267.61 147.16 L268.24 147.54 L268.88 147.92 L269.52 148.28 L270.16 148.62 L270.81 148.94 L271.47 149.24 L272.14 149.53 L272.80 149.81 L273.48 150.09 L274.15 150.36 L274.83 150.63 L275.51 150.89 L276.20 151.16 L276.88 151.41 L277.57 151.67 L278.26 151.91 L278.96 152.16 L279.65 152.39 L280.35 152.63 L281.04 152.85 L281.74 153.08 L282.44 153.29 L283.14 153.50 L283.85 153.71 L284.55 153.91 L285.25 154.10 L285.95 154.29 L286.66 154.47 L287.37 154.63 L288.08 154.79 L288.79 154.95 L289.51 155.09 L290.23 155.23 L290.95 155.37 L291.67 155.50 L292.39 155.63 L293.11 155.76 L293.84 155.89 L294.56 156.02 L295.28 156.15 L296.00 156.29 L296.72 156.43 L297.43 156.57 L298.14 156.73 L298.85 156.89 L299.56 157.06 L300.26 157.24 L300.96 157.43 L301.65 157.63 L302.35 157.84 L303.04 158.06 L303.73 158.29 L304.42 158.53 L305.11 158.78 L305.80 159.03 L306.48 159.29 L307.17 159.56 L307.85 159.83 L308.53 160.10 L309.21 160.39 L309.88 160.67 L310.56 160.96 L311.23 161.25 L311.90 161.55 L312.57 161.84 L313.24 162.14 L313.91 162.44 L314.57 162.74 L315.24 163.04 L315.90 163.34 L316.55 163.66 L317.20 163.98 L317.85 164.31 L318.50 164.65 L319.14 165.00 L319.79 165.34 L320.43 165.70 L321.07 166.05 L321.70 166.41 L322.34 166.77 L322.98 167.13 L323.62 167.49 L324.26 167.85 L324.90 168.21 L325.54 168.56 L326.18 168.91 L326.82 169.26 L327.47 169.60 L328.12 169.93 L328.77 170.26 L329.42 170.58 L330.08 170.90 L330.74 171.21 L331.40 171.53 L332.06 171.84 L332.72 172.15 L333.38 172.47 L334.04 172.77 L334.71 173.08 L335.37 173.39 L336.04 173.69 L336.71 173.99 L337.38 174.29 L338.05 174.58 L338.72 174.87 L339.39 175.16 L340.06 175.44 L340.74 175.72 L341.41 175.99 L342.09 176.26 L342.77 176.53 L343.45 176.79 L344.13 177.05 L344.81 177.30 L345.50 177.55 L346.19 177.79 L346.87 178.03 L347.56 178.27 L348.25 178.51 L348.95 178.74 L349.64 178.98 L350.34 179.20 L351.03 179.43 L351.73 179.65 L352.43 179.87 L353.13 180.09 L353.82 180.30 L354.53 180.51 L355.23 180.72 L355.93 180.93 L356.63 181.13 L357.33 181.34 L358.03 181.53 L358.73 181.73 L359.44 181.93 L360.14 182.14 L360.84 182.34 L361.55 182.55 L362.25 182.76 L362.95 182.96 L363.66 183.17 L364.37 183.37 L365.07 183.57 L365.78 183.76 L366.49 183.95 L367.20 184.13 L367.91 184.30 L368.62 184.46 L369.33 184.62 L370.05 184.77 L370.76 184.90 L371.48 185.02 L372.20 185.13 L372.91 185.22 L373.63 185.31 L374.36 185.40 L375.08 185.49 L375.81 185.58 L376.53 185.66 L377.26 185.74 L377.99 185.81 L378.72 185.88 L379.45 185.93 L380.18 185.98 L380.91 186.01 L381.64 186.03 L382.37 186.04 L383.10 186.04 L383.83 186.04 L384.56 186.04 L385.29 186.04 L386.02 186.03 L386.76 186.03 L387.49 186.03 L388.22 186.02 L388.95 186.02 L389.68 186.02 L390.41 186.01 L391.14 186.01 L391.87 186.00 L392.60 185.99 L393.33 185.97 L394.06 185.94 L394.78 185.89 L395.51 185.84 L396.24 185.78 L396.97 185.71 L397.70 185.64 L398.43 185.56 L399.15 185.48 L399.88 185.40 L400.61 185.31 L401.33 185.23 L402.06 185.14 L402.78 185.05 L403.50 184.96 L404.22 184.86 L404.94 184.75 L405.67 184.63 L406.39 184.50 L407.11 184.37 L407.82 184.24 L408.54 184.09 L409.26 183.95 L409.98 183.80 L410.69 183.65 L411.41 183.50 L412.12 183.35 L412.83 183.19 L413.55 183.04 L414.26 182.88 L414.97 182.71 L415.68 182.53 L416.38 182.35 L417.09 182.17 L417.80 181.98 L418.50 181.79 L419.21 181.60 L419.91 181.40 L420.62 181.21 L421.32 181.01 L422.02 180.82 L422.73 180.62 L423.43 180.43 L424.14 180.24 L424.85 180.06 L425.55 179.87 L426.26 179.68 L426.96 179.48 L427.67 179.29 L428.37 179.10 L429.08 178.90 L429.78 178.71 L430.49 178.51 L431.19 178.32 L431.90 178.13 L432.60 177.95 L433.31 177.77 L434.02 177.59 L434.73 177.42 L435.44 177.25 L436.15 177.10 L436.86 176.94 L437.58 176.80 L438.29 176.65 L439.01 176.51 L439.73 176.37 L440.44 176.23 L441.16 176.10 L441.88 175.97 L442.60 175.84 L443.32 175.71 L444.04 175.59 L444.76 175.47 L445.48 175.35 L446.21 175.24 L446.93 175.13 L447.65 175.02 L448.37 174.91 L449.10 174.81 L449.82 174.72 L450.54 174.62 L451.27 174.53 L451.99 174.44 L452.72 174.36 L453.44 174.27 L454.17 174.19 L454.89 174.11 L455.62 174.03 L456.35 173.96 L457.07 173.88 L457.80 173.81 L458.53 173.73 L459.25 173.66 L459.98 173.59 L460.71 173.52 L461.43 173.45 L462.16 173.37 L462.89 173.30 L463.61 173.24 L464.34 173.17 L465.07 173.10 L465.80 173.03 L466.52 172.97 L467.25 172.90 L467.98 172.84 L468.71 172.78 L469.43 172.71 L470.16 172.65 L470.89 172.59 L471.62 172.53 L472.35 172.47 L473.07 172.41 L473.80 172.35 L474.53 172.29 L475.26 172.23 L475.98 172.18 L476.71 172.12 L477.44 172.06 L478.17 171.99 L478.90 171.93 L479.62 171.86 L480.35 171.80 L481.08 171.74 L481.81 171.67 L482.54 171.61 L483.27 171.55 L483.99 171.50 L484.72 171.44 L485.45 171.39 L486.18 171.35 L486.91 171.30 L487.64 171.27 L488.37 171.24 L489.10 171.21 L489.82 171.19 L490.55 171.18 L491.28 171.16 L492.01 171.15 L492.74 171.13 L493.47 171.12 L494.20 171.11 L494.93 171.09 L495.66 171.08 L496.40 171.07 L497.13 171.06 L497.86 171.05 L498.59 171.04 L499.32 171.03 L500.05 171.02 L500.78 171.02 L501.51 171.01 L502.24 171.01 L502.97 171.00 L503.70 171.00 L504.43 171.00 L505.16 171.00 L505.89 171.00 L506.62 171.01 L507.35 171.03 L508.08 171.04 L508.81 171.06 L509.54 171.08 L510.27 171.11 L511.00 171.14 L511.73 171.17 L512.47 171.21 L513.20 171.24 L513.93 171.28 L514.66 171.32 L515.39 171.37 L516.11 171.41 L516.84 171.46 L517.57 171.50 L518.30 171.55 L519.03 171.60 L519.75 171.65 L520.21 171.68 M520.21 171.68L536.52 174.09 M536.52 174.09L552.71 178.19 M553.60 178.42L569.25 184.23 M571.46 185.05L587.60 189.35 M590.17 190.03L605.41 196.84 M609.74 198.78L624.81 205.98 M630.23 208.57L644.99 216.38 M651.68 219.93L666.72 227.18 M674.12 230.75L689.98 235.99 M697.62 238.51L713.17 244.58 M722.21 248.10L737.96 253.66 M747.94 257.18L763.82 262.37" stroke="#00f58c" stroke-width="1.10" fill="none"/>
<path d="M180.60 108.40H198.60M189.60 99.40V117.40M181.48 105.02H199.48M190.48 96.02V114.02M182.40 122.42H200.40M191.40 113.42V131.42M183.37 139.48H201.37M192.37 130.48V148.48M184.37 152.28H202.37M193.37 143.28V161.28M185.43 158.16H203.43M194.43 149.16V167.16M186.54 163.68H204.54M195.54 154.68V172.68M187.69 168.97H205.69M196.69 159.97V177.97M188.91 174.53H206.91M197.91 165.53V183.53M190.17 179.92H208.17M199.17 170.92V188.92M191.50 182.49H209.50M200.50 173.49V191.49M192.89 181.31H210.89M201.89 172.31V190.31M194.34 178.71H212.34M203.34 169.71V187.71M195.87 175.39H213.87M204.87 166.39V184.39M197.46 170.38H215.46M206.46 161.38V179.38M199.12 165.30H217.12M208.12 156.30V174.30M200.87 160.39H218.87M209.87 151.39V169.39M202.70 156.34H220.70M211.70 147.34V165.34M204.61 153.62H222.61M213.61 144.62V162.62M206.61 151.40H224.61M215.61 142.40V160.40M208.70 149.30H226.70M217.70 140.30V158.30M210.89 147.21H228.89M219.89 138.21V156.21M213.19 145.23H231.19M222.19 136.23V154.23M215.59 143.48H233.59M224.59 134.48V152.48M218.10 142.08H236.10M227.10 133.08V151.08M220.73 141.05H238.73M229.73 132.05V150.05M223.49 140.10H241.49M232.49 131.10V149.10M226.37 139.26H244.37M235.37 130.26V148.26M229.38 138.60H247.38M238.38 129.60V147.60M232.54 138.23H250.54M241.54 129.23V147.23M235.85 138.30H253.85M244.85 129.30V147.30M239.30 138.82H257.30M248.30 129.82V147.82M242.92 139.69H260.92M251.92 130.69V148.69M246.71 140.80H264.71M255.71 131.80V149.80M250.68 142.28H268.68M259.68 133.28V151.28M254.83 144.70H272.83M263.83 135.70V153.70M259.18 147.50H277.18M268.18 138.50V156.50M263.72 149.78H281.72M272.72 140.78V158.78M268.48 151.63H286.48M277.48 142.63V160.63M273.46 153.30H291.46M282.46 144.30V162.30M278.68 154.71H296.68M287.68 145.71V163.71M284.14 155.76H302.14M293.14 146.76V164.76M289.85 156.88H307.85M298.85 147.88V165.88M295.83 158.67H313.83M304.83 149.67V167.67M302.09 161.19H320.09M311.09 152.19V170.19M308.64 164.20H326.64M317.64 155.20V173.20M315.49 167.98H333.49M324.49 158.98V176.98M322.67 171.66H340.67M331.67 162.66V180.66M330.18 175.07H348.18M339.18 166.07V184.07M338.04 178.09H356.04M347.04 169.09V187.09M346.27 180.74H364.27M355.27 171.74V189.74M354.88 183.23H372.88M363.88 174.23V192.23M363.90 185.22H381.90M372.90 176.22V194.22M373.33 186.04H391.33M382.33 177.04V195.04M383.21 186.00H401.21M392.21 177.00V195.00M393.54 185.08H411.54M402.54 176.08V194.08M404.36 183.08H422.36M413.36 174.08V192.08M415.68 180.10H433.68M424.68 171.10V189.10M427.54 177.01H445.54M436.54 168.01V186.01M439.94 174.84H457.94M448.94 165.84V183.84M452.93 173.40H470.93M461.93 164.40V182.40M466.52 172.21H484.52M475.52 163.21V181.21M480.74 171.20H498.74M489.74 162.20V180.20M495.63 171.00H513.63M504.63 162.00V180.00M511.21 171.68H529.21M520.21 162.68V180.68M527.52 174.09H545.52M536.52 165.09V183.09M544.60 178.42H562.60M553.60 169.42V187.42M562.46 185.05H580.46M571.46 176.05V194.05M581.17 190.03H599.17M590.17 181.03V199.03M600.74 198.78H618.74M609.74 189.78V207.78M621.23 208.57H639.23M630.23 199.57V217.57M642.68 219.93H660.68M651.68 210.93V228.93M665.12 230.75H683.12M674.12 221.75V239.75M688.62 238.51H706.62M697.62 229.51V247.51M713.21 248.10H731.21M722.21 239.10V257.10M738.94 257.18H756.94M747.94 248.18V266.18M765.88 266.00H783.88M774.88 257.00V275.00" stroke="#00f58c" stroke-width="1.05" fill="none"/>
<path d="M188.30 50.00 L188.31 50.86 L188.33 51.72 L188.34 52.58 L188.36 53.44 L188.37 54.30 L188.39 55.16 L188.40 56.02 L188.41 56.88 L188.43 57.74 L188.44 58.60 L188.46 59.45 L188.47 60.31 L188.49 61.17 L188.50 62.03 L188.51 62.89 L188.53 63.75 L188.54 64.61 L188.56 65.47 L188.57 66.33 L188.59 67.19 L188.60 68.05 L188.62 68.91 L188.63 69.77 L188.64 70.63 L188.66 71.49 L188.67 72.35 L188.69 73.21 L188.70 74.07 L188.72 74.93 L188.73 75.79 L188.75 76.64 L188.76 77.50 L188.78 78.36 L188.79 79.22 L188.81 80.08 L188.82 80.94 L188.83 81.80 L188.85 82.66 L188.86 83.52 L188.88 84.38 L188.89 85.24 L188.91 86.10 L188.92 86.96 L188.94 87.82 L188.95 88.68 L188.97 89.54 L188.98 90.40 L189.00 91.26 L189.01 92.12 L189.03 92.98 L189.04 93.83 L189.06 94.69 L189.07 95.55 L189.09 96.41 L189.10 97.27 L189.12 98.13 L189.13 98.99 L189.15 99.85 L189.16 100.71 L189.18 101.57 L189.19 102.43 L189.21 103.29 L189.22 104.15 L189.24 105.01 L189.26 105.87 L189.27 106.73 L189.29 107.59 L189.30 108.45 L189.32 109.31 L189.34 110.17 L189.35 111.02 L189.37 111.88 L189.39 112.74 L189.40 113.60 L189.42 114.46 L189.44 115.32 L189.45 116.18 L189.47 117.04 L189.49 117.90 L189.50 118.76 L189.52 119.62 L189.54 120.48 L189.55 121.34 L189.57 122.20 L189.59 123.06 L189.60 123.92 L189.62 124.78 L189.63 125.64 L189.65 126.50 L189.67 127.35 L189.68 128.21 L189.70 129.07 L189.72 129.93 L189.73 130.79 L189.75 131.65 L189.76 132.51 L189.78 133.37 L189.79 134.23 L189.81 135.09 L189.83 135.95 L189.84 136.81 L189.86 137.67 L189.87 138.53 L189.89 139.39 L189.90 140.25 L189.91 141.11 L189.93 141.97 L189.94 142.83 L189.96 143.69 L189.97 144.54 L189.98 145.40 L190.00 146.26 L190.01 147.12 L190.02 147.98 L190.03 148.84 L190.05 149.70 L190.06 150.56 L190.07 151.42 L190.08 152.28 L190.09 153.14 L190.10 154.00 L190.11 154.86 L190.12 155.72 L190.13 156.58 L190.14 157.44 L190.15 158.30 L190.16 159.16 L190.17 160.02 L190.18 160.88 L190.19 161.74 L190.20 162.60 L190.20 163.46 L190.21 164.31 L190.22 165.17 L190.23 166.03 L190.24 166.89 L190.25 167.75 L190.26 168.61 L190.27 169.47 L190.28 170.33 L190.29 171.19 L190.30 172.05 L190.31 172.91 L190.32 173.77 L190.33 174.63 L190.34 175.49 L190.35 176.35 L190.36 177.21 L190.37 178.07 L190.38 178.93 L190.40 179.79 L190.41 180.65 L190.42 181.51 L190.44 182.37 L190.45 183.23 L190.46 184.09 L190.48 184.94 L190.49 185.80 L190.51 186.66 L190.52 187.52 L190.54 188.38 L190.55 189.24 L190.57 190.10 L190.58 190.96 L190.60 191.82 L190.62 192.68 L190.63 193.54 L190.65 194.40 L190.67 195.26 L190.69 196.12 L190.71 196.98 L190.73 197.84 L190.75 198.70 L190.77 199.56 L190.80 200.42 L190.82 201.27 L190.84 202.13 L190.87 202.99 L190.90 203.85 L190.92 204.71 L190.95 205.57 L190.98 206.43 L191.02 207.29 L191.05 208.15 L191.09 209.01 L191.12 209.87 L191.16 210.72 L191.21 211.58 L191.25 212.44 L191.30 213.30 L191.34 214.16 L191.39 215.02 L191.44 215.88 L191.49 216.74 L191.55 217.60 L191.60 218.45 L191.66 219.31 L191.71 220.17 L191.77 221.03 L191.83 221.89 L191.89 222.74 L191.96 223.60 L192.02 224.46 L192.09 225.31 L192.15 226.17 L192.22 227.03 L192.29 227.88 L192.36 228.74 L192.43 229.59 L192.51 230.45 L192.59 231.31 L192.67 232.17 L192.75 233.03 L192.84 233.89 L192.93 234.75 L193.02 235.61 L193.12 236.46 L193.22 237.32 L193.33 238.18 L193.44 239.03 L193.55 239.89 L193.67 240.74 L193.79 241.59 L193.92 242.44 L194.05 243.29 L194.19 244.14 L194.33 244.98 L194.48 245.82 L194.64 246.66 L194.80 247.49 L194.97 248.34 L195.15 249.22 L195.36 250.11 L195.58 250.99 L195.82 251.87 L196.09 252.71 L196.39 253.52 L196.72 254.28 L197.09 254.96 L197.51 255.59 L198.10 256.26 L198.83 256.90 L199.62 257.38 L200.41 257.60 L201.20 257.53 L202.06 257.31 L202.92 257.00 L203.72 256.64 L204.42 256.26 L205.07 255.76 L205.68 255.16 L206.27 254.49 L206.83 253.79 L207.38 253.08 L207.93 252.39 L208.47 251.73 L209.00 251.07 L209.53 250.40 L210.06 249.72 L210.58 249.04 L211.09 248.35 L211.60 247.65 L212.10 246.96 L212.60 246.25 L213.09 245.55 L213.58 244.83 L214.07 244.12 L214.55 243.40 L215.03 242.68 L215.50 241.96 L215.97 241.23 L216.43 240.50 L216.89 239.78 L217.35 239.04 L217.81 238.31 L218.26 237.58 L218.71 236.85 L219.16 236.12 L219.61 235.39 L220.05 234.65 L220.48 233.91 L220.90 233.16 L221.32 232.41 L221.73 231.66 L222.14 230.90 L222.54 230.13 L222.93 229.36 L223.33 228.60 L223.71 227.82 L224.10 227.05 L224.49 226.28 L224.87 225.50 L225.25 224.73 L225.64 223.95 L226.03 223.18 L226.41 222.41 L226.80 221.64 L227.20 220.87 L227.59 220.11 L228.00 219.35 L228.40 218.59 L228.82 217.84 L229.24 217.09 L229.66 216.35 L230.10 215.62 L230.54 214.89 L231.00 214.17 L231.46 213.46 L231.93 212.75 L232.40 212.03 L232.89 211.32 L233.37 210.61 L233.87 209.90 L234.37 209.19 L234.87 208.48 L235.39 207.78 L235.90 207.08 L236.43 206.38 L236.96 205.69 L237.49 205.00 L238.04 204.33 L238.59 203.65 L239.14 202.99 L239.70 202.34 L240.27 201.69 L240.84 201.05 L241.43 200.43 L242.01 199.81 L242.61 199.21 L243.21 198.61 L243.81 198.03 L244.44 197.46 L245.07 196.90 L245.72 196.35 L246.39 195.81 L247.06 195.27 L247.75 194.74 L248.44 194.22 L249.14 193.71 L249.85 193.20 L250.56 192.70 L251.28 192.21 L252.00 191.73 L252.72 191.25 L253.44 190.78 L254.16 190.32 L254.88 189.86 L255.61 189.40 L256.34 188.96 L257.08 188.51 L257.82 188.07 L258.57 187.64 L259.32 187.22 L260.07 186.80 L260.83 186.39 L261.59 185.98 L262.36 185.59 L263.13 185.20 L263.90 184.82 L264.67 184.44 L265.44 184.08 L266.22 183.72 L267.00 183.36 L267.79 183.00 L268.57 182.64 L269.37 182.29 L270.16 181.94 L270.96 181.61 L271.76 181.28 L272.56 180.97 L273.37 180.67 L274.18 180.39 L274.99 180.12 L275.81 179.87 L276.63 179.65 L277.45 179.43 L278.28 179.22 L279.11 179.01 L279.95 178.81 L280.79 178.61 L281.63 178.41 L282.47 178.23 L283.32 178.05 L284.17 177.88 L285.02 177.72 L285.87 177.57 L286.72 177.42 L287.57 177.29 L288.42 177.17 L289.28 177.06 L290.13 176.97 L290.98 176.88 L291.83 176.81 L292.69 176.74 L293.54 176.68 L294.40 176.63 L295.26 176.58 L296.12 176.54 L296.98 176.49 L297.84 176.45 L298.70 176.41 L299.56 176.37 L300.42 176.33 L301.28 176.28 L302.14 176.24 L303.00 176.18 L303.86 176.12 L304.71 176.06 L305.57 175.99 L306.42 175.91 L307.27 175.82 L308.13 175.72 L308.98 175.62 L309.83 175.51 L310.68 175.39 L311.53 175.27 L312.38 175.14 L313.23 175.01 L314.08 174.87 L314.93 174.73 L315.78 174.58 L316.63 174.43 L317.48 174.28 L318.33 174.13 L319.17 173.98 L320.02 173.82 L320.87 173.66 L321.71 173.50 L322.56 173.35 L323.40 173.19 L324.25 173.03 L325.09 172.88 L325.94 172.72 L326.78 172.55 L327.62 172.39 L328.46 172.21 L329.30 172.04 L330.14 171.86 L330.98 171.67 L331.82 171.49 L332.66 171.30 L333.50 171.11 L334.34 170.92 L335.18 170.72 L336.01 170.53 L336.85 170.33 L337.69 170.13 L338.53 169.93 L339.36 169.74 L340.20 169.54 L341.04 169.34 L341.88 169.15 L342.71 168.95 L343.55 168.76 L344.39 168.57 L345.23 168.38 L346.07 168.19 L346.91 168.00 L347.75 167.82 L348.59 167.64 L349.43 167.47 L350.27 167.29 L351.11 167.12 L351.95 166.95 L352.80 166.78 L353.64 166.61 L354.48 166.44 L355.33 166.27 L356.17 166.10 L357.01 165.94 L357.86 165.77 L358.70 165.60 L359.54 165.44 L360.39 165.28 L361.23 165.11 L362.07 164.95 L362.92 164.79 L363.76 164.62 L364.61 164.46 L365.45 164.30 L366.30 164.13 L367.14 163.97 L367.98 163.81 L368.83 163.64 L369.67 163.48 L370.52 163.32 L371.36 163.15 L372.20 162.98 L373.05 162.82 L373.89 162.65 L374.73 162.48 L375.58 162.31 L376.42 162.14 L377.26 161.97 L378.10 161.80 L378.94 161.63 L379.79 161.45 L380.63 161.28 L381.47 161.09 L382.31 160.91 L383.15 160.71 L383.99 160.52 L384.82 160.32 L385.66 160.12 L386.50 159.91 L387.34 159.71 L388.17 159.51 L389.01 159.30 L389.85 159.10 L390.69 158.91 L391.52 158.71 L392.36 158.52 L393.20 158.33 L394.04 158.15 L394.88 157.98 L395.72 157.81 L396.57 157.65 L397.41 157.50 L398.26 157.36 L399.10 157.23 L399.95 157.11 L400.80 156.98 L401.65 156.86 L402.50 156.74 L403.35 156.63 L404.20 156.51 L405.05 156.40 L405.91 156.29 L406.76 156.18 L407.62 156.07 L408.47 155.97 L409.33 155.87 L410.19 155.78 L411.04 155.69 L411.90 155.60 L412.76 155.52 L413.61 155.44 L414.47 155.37 L415.33 155.30 L416.19 155.24 L417.04 155.19 L417.90 155.14 L418.76 155.09 L419.61 155.05 L420.47 155.01 L421.33 154.97 L422.19 154.93 L423.05 154.89 L423.90 154.85 L424.76 154.82 L425.62 154.78 L426.48 154.75 L427.34 154.71 L428.20 154.68 L429.06 154.65 L429.92 154.63 L430.78 154.60 L431.64 154.58 L432.50 154.56 L433.36 154.54 L434.22 154.53 L435.08 154.52 L435.94 154.51 L436.80 154.50 L437.66 154.50 L438.52 154.50 L439.38 154.51 L440.24 154.51 L441.10 154.52 L441.96 154.54 L442.82 154.55 L443.68 154.57 L444.54 154.59 L445.40 154.62 L446.26 154.64 L447.12 154.67 L447.98 154.70 L448.84 154.73 L449.70 154.77 L450.56 154.80 L451.41 154.84 L452.27 154.87 L453.13 154.91 L453.99 154.95 L454.85 154.99 L455.71 155.03 L456.56 155.07 L457.42 155.12 L458.28 155.16 L459.13 155.22 L459.99 155.28 L460.85 155.35 L461.70 155.42 L462.56 155.50 L463.41 155.59 L464.27 155.68 L465.12 155.77 L465.98 155.87 L466.83 155.97 L467.69 156.07 L468.54 156.18 L469.40 156.29 L470.25 156.40 L471.10 156.51 L471.96 156.62 L472.81 156.73 L473.66 156.84 L474.52 156.96 L475.37 157.07 L476.22 157.18 L477.07 157.29 L477.93 157.40 L478.78 157.52 L479.63 157.64 L480.48 157.76 L481.33 157.88 L482.18 158.01 L483.03 158.14 L483.88 158.27 L484.73 158.40 L485.58 158.53 L486.43 158.67 L487.28 158.81 L488.12 158.94 L488.97 159.08 L489.82 159.22 L490.67 159.36 L491.52 159.50 L492.37 159.65 L493.21 159.79 L494.06 159.93 L494.91 160.07 L495.76 160.21 L496.61 160.35 L497.46 160.49 L498.30 160.63 L499.15 160.77 L500.00 160.91 L500.85 161.05 L501.70 161.19 L502.55 161.34 L503.39 161.48 L504.24 161.63 L505.09 161.77 L505.94 161.92 L506.78 162.07 L507.63 162.22 L508.48 162.37 L509.32 162.52 L510.17 162.68 L511.01 162.84 L511.86 163.00 L512.70 163.16 L513.54 163.33 L514.38 163.50 L515.23 163.67 L516.07 163.84 L516.91 164.02 L517.75 164.20 L518.59 164.38 L519.43 164.56 L520.27 164.75 L521.11 164.94 L521.94 165.13 L522.78 165.33 L523.62 165.53 L524.46 165.73 L525.29 165.93 L526.13 166.13 L526.96 166.34 L527.80 166.55 L528.63 166.76 L529.47 166.98 L530.30 167.19 L531.13 167.41 L531.96 167.63 L532.79 167.86 L533.62 168.08 L534.44 168.31 L535.27 168.54 L536.10 168.77 L536.92 169.01 L537.74 169.26 L538.57 169.51 L539.39 169.76 L540.21 170.01 L541.03 170.27 L541.85 170.53 L542.67 170.79 L543.49 171.06 L544.30 171.33 L545.12 171.60 L545.94 171.87 L546.75 172.14 L547.57 172.41 L548.39 172.69 L549.20 172.96 L550.02 173.24 L550.83 173.51 L551.65 173.79 L552.46 174.06 L553.28 174.33 L554.09 174.61 L554.90 174.88 L555.72 175.16 L556.53 175.43 L557.35 175.71 L558.16 175.99 L558.97 176.27 L559.79 176.55 L560.60 176.83 L561.41 177.11 L562.23 177.39 L563.04 177.67 L563.85 177.96 L564.66 178.24 L565.47 178.53 L566.28 178.81 L567.09 179.10 L567.90 179.39 L568.71 179.68 L569.52 179.97 L570.33 180.26 L571.14 180.55 L571.95 180.84 L572.76 181.13 L573.57 181.43 L574.37 181.73 L575.18 182.02 L575.99 182.32 L576.79 182.62 L577.60 182.92 L578.40 183.22 L579.21 183.52 L580.01 183.82 L580.81 184.13 L581.62 184.43 L582.42 184.74 L583.22 185.04 L584.02 185.35 L584.83 185.66 L585.63 185.97 L586.43 186.28 L587.23 186.59 L588.03 186.90 L588.83 187.22 L589.63 187.53 L590.43 187.85 L591.23 188.16 L592.03 188.48 L592.83 188.79 L593.63 189.11 L594.43 189.43 L595.22 189.75 L596.02 190.07 L596.82 190.39 L597.62 190.71 L598.42 191.03 L599.21 191.36 L600.01 191.68 L600.81 192.00 L601.60 192.33 L602.40 192.65 L603.19 192.98 L603.99 193.31 L604.78 193.63 L605.58 193.96 L606.37 194.29 L607.17 194.62 L607.96 194.95 L608.76 195.28 L609.55 195.61 L610.35 195.94 L611.14 196.27 L611.93 196.60 L612.73 196.93 L613.52 197.27 L614.31 197.60 L615.11 197.93 L615.90 198.27 L616.69 198.60 L617.48 198.94 L618.27 199.27 L619.07 199.61 L619.86 199.94 L620.65 200.28 L621.44 200.61 L622.23 200.95 L623.02 201.29 L623.81 201.62 L624.60 201.96 L625.39 202.30 L626.18 202.64 L626.97 202.98 L627.76 203.31 L628.55 203.65 L629.34 203.99 L630.13 204.33 L630.92 204.67 L631.71 205.02 L632.50 205.36 L633.28 205.71 L634.07 206.05 L634.85 206.40 L635.64 206.75 L636.43 207.10 L637.21 207.45 L637.99 207.80 L638.78 208.15 L639.56 208.51 L640.35 208.86 L641.13 209.21 L641.91 209.57 L642.69 209.93 L643.48 210.28 L644.26 210.64 L645.04 211.00 L645.82 211.35 L646.61 211.71 L647.39 212.07 L648.17 212.43 L648.95 212.79 L649.73 213.15 L650.51 213.51 L651.29 213.86 L652.07 214.22 L652.86 214.58 L653.64 214.94 L654.42 215.30 L655.20 215.66 L655.98 216.02 L656.76 216.38 L657.54 216.74 L658.32 217.10 L659.11 217.46 L659.89 217.82 L660.67 218.17 L661.45 218.53 L662.23 218.89 L663.02 219.24 L663.80 219.60 L664.58 219.96 L665.36 220.31 L666.15 220.66 L666.93 221.02 L667.72 221.37 L668.50 221.72 L669.29 222.07 L670.07 222.42 L670.86 222.77 L671.64 223.12 L672.43 223.47 L673.21 223.81 L674.00 224.16 L674.79 224.50 L675.58 224.84 L676.37 225.19 L677.16 225.53 L677.94 225.87 L678.73 226.21 L679.52 226.54 L680.31 226.88 L681.10 227.22 L681.89 227.56 L682.69 227.89 L683.48 228.23 L684.27 228.57 L685.06 228.90 L685.85 229.24 L686.64 229.57 L687.43 229.91 L688.23 230.24 L689.02 230.57 L689.81 230.90 L690.60 231.24 L691.40 231.57 L692.19 231.90 L692.98 232.23 L693.78 232.56 L694.57 232.89 L695.36 233.22 L696.16 233.55 L696.95 233.88 L697.75 234.21 L698.54 234.54 L699.34 234.87 L700.13 235.20 L700.92 235.52 L701.72 235.85 L702.51 236.18 L703.31 236.51 L704.11 236.83 L704.90 237.16 L705.70 237.49 L706.49 237.81 L707.29 238.14 L708.08 238.47 L708.88 238.79 L709.67 239.12 L710.47 239.44 L711.27 239.77 L712.06 240.09 L712.86 240.42 L713.65 240.74 L714.45 241.07 L715.25 241.39 L716.04 241.72 L716.84 242.04 L717.63 242.36 L718.43 242.69 L719.23 243.01 L720.02 243.34 L720.82 243.66 L721.62 243.99 L722.41 244.31 L723.21 244.63 L724.00 244.96 L724.80 245.28 L725.60 245.61 L726.39 245.93 L727.19 246.25 L727.99 246.57 L728.78 246.90 L729.58 247.22 L730.38 247.54 L731.18 247.86 L731.97 248.18 L732.77 248.50 L733.57 248.82 L734.37 249.14 L735.17 249.46 L735.96 249.77 L736.76 250.09 L737.56 250.41 L738.36 250.73 L739.16 251.05 L739.96 251.36 L740.76 251.68 L741.56 252.00 L742.35 252.32 L743.15 252.63 L743.95 252.95 L744.75 253.27 L745.55 253.58 L746.35 253.90 L747.15 254.21 L747.95 254.53 L748.75 254.85 L749.55 255.16 L750.35 255.48 L751.15 255.79 L751.95 256.11 L752.75 256.43 L753.55 256.74 L754.35 257.06 L755.14 257.38 L755.94 257.69 L756.74 258.01 L757.54 258.33 L758.34 258.64 L759.14 258.96 L759.94 259.28 L760.74 259.59 L761.54 259.91 L762.34 260.23 L763.13 260.55 L763.93 260.87 L764.73 261.18 L765.53 261.50 L766.33 261.82 L767.13 262.14 L767.92 262.46 L768.72 262.78 L769.52 263.10 L770.32 263.42 L771.11 263.75 L771.91 264.07 L772.71 264.39 L773.50 264.71 L774.30 265.03 L775.10 265.36 L775.89 265.68 L776.69 266.01 L777.49 266.33 L778.28 266.66 L779.08 266.98 L779.87 267.31 L780.67 267.64 L781.46 267.97 L782.26 268.29 L783.05 268.62 L783.85 268.95 L784.64 269.28 L785.43 269.61 L786.23 269.94 L787.02 270.26 L787.82 270.59 L788.61 270.92 L789.40 271.25" stroke="#ff0000" stroke-width="3.6" stroke-linecap="butt"/>
<rect x="185.05" y="50" width="2.1" height="66.1" fill="#ff0000" stroke="none"/>
<rect x="185.2" y="116.1" width="1.9" height="19" fill="#00f58c" stroke="none"/>
<path d="M186.20 57.00 L186.21 57.59 L186.23 58.18 L186.24 58.77 L186.25 59.36 L186.26 59.95 L186.28 60.54 L186.29 61.12 L186.30 61.71 L186.31 62.30 L186.32 62.89 L186.34 63.48 L186.35 64.07 L186.36 64.66 L186.37 65.25 L186.39 65.84 L186.40 66.43 L186.41 67.02 L186.42 67.61 L186.44 68.19 L186.45 68.78 L186.46 69.37 L186.47 69.96 L186.49 70.55 L186.50 71.14 L186.51 71.73 L186.52 72.32 L186.54 72.91 L186.55 73.50 L186.56 74.09 L186.57 74.68 L186.59 75.27 L186.60 75.85 L186.61 76.44 L186.62 77.03 L186.63 77.62 L186.65 78.21 L186.66 78.80 L186.67 79.39 L186.68 79.98 L186.70 80.57 L186.71 81.16 L186.72 81.75 L186.73 82.34 L186.75 82.93 L186.76 83.51 L186.77 84.10 L186.78 84.69 L186.79 85.28 L186.81 85.87 L186.82 86.46 L186.83 87.05 L186.84 87.64 L186.86 88.23 L186.87 88.82 L186.88 89.41 L186.89 90.00 L186.90 90.59 L186.92 91.17 L186.93 91.76 L186.94 92.35 L186.95 92.94 L186.96 93.53 L186.98 94.12 L186.99 94.71 L187.00 95.30 L187.01 95.89 L187.03 96.48 L187.04 97.07 L187.05 97.66 L187.06 98.24 L187.07 98.83 L187.09 99.42 L187.10 100.01 L187.11 100.60 L187.12 101.19 L187.13 101.78 L187.15 102.37 L187.16 102.96 L187.17 103.55 L187.18 104.14 L187.19 104.73 L187.21 105.32 L187.22 105.90 L187.23 106.49 L187.24 107.08 L187.25 107.67 L187.26 108.26 L187.28 108.85 L187.29 109.44 L187.30 110.03 L187.31 110.62 L187.32 111.21 L187.33 111.80 L187.34 112.39 L187.35 112.98 L187.37 113.56 L187.38 114.15 L187.39 114.74 L187.40 115.33 L187.41 115.92 L187.42 116.51 L187.43 117.10 L187.44 117.69 L187.45 118.28 L187.46 118.87 L187.47 119.46 L187.48 120.05 L187.49 120.64 L187.50 121.23 L187.51 121.81 L187.52 122.40 L187.53 122.99 L187.55 123.58 L187.56 124.17 L187.57 124.76 L187.58 125.35 L187.59 125.94 L187.60 126.53 L187.61 127.12 L187.62 127.71 L187.63 128.30 L187.64 128.89 L187.65 129.48 L187.66 130.06 L187.67 130.65 L187.69 131.24 L187.70 131.83 L187.71 132.42 L187.72 133.01 L187.73 133.60 L187.74 134.19 L187.75 134.78 L187.77 135.37 L187.78 135.96 L187.79 136.55 L187.80 137.14 L187.81 137.72 L187.83 138.31 L187.84 138.90 L187.85 139.49 L187.86 140.08 L187.88 140.67 L187.89 141.26 L187.90 141.85 L187.92 142.44 L187.93 143.03 L187.94 143.62 L187.96 144.21 L187.97 144.79 L187.98 145.38 L188.00 145.97 L188.01 146.56 L188.03 147.15 L188.04 147.74 L188.06 148.33 L188.07 148.92 L188.09 149.51 L188.10 150.10 L188.12 150.69 L188.13 151.27 L188.15 151.86 L188.17 152.45 L188.18 153.04 L188.20 153.63 L188.21 154.22 L188.23 154.81 L188.25 155.40 L188.26 155.99 L188.28 156.58 L188.30 157.17 L188.31 157.76 L188.33 158.35 L188.35 158.94 L188.37 159.53 L188.38 160.11 L188.40 160.70 L188.42 161.29 L188.44 161.88 L188.46 162.47 L188.48 163.06 L188.50 163.65 L188.52 164.24 L188.54 164.83 L188.56 165.42 L188.58 166.01 L188.60 166.60 L188.62 167.19 L188.64 167.77 L188.67 168.36 L188.69 168.95 L188.71 169.54 L188.74 170.13 L188.76 170.72 L188.78 171.31 L188.81 171.90 L188.83 172.49 L188.86 173.07 L188.89 173.66 L188.91 174.25 L188.94 174.84 L188.97 175.43 L189.00 176.02 L189.02 176.60 L189.05 177.19 L189.08 177.78 L189.11 178.37 L189.14 178.96 L189.18 179.54 L189.21 180.13 L189.24 180.72 L189.27 181.31 L189.31 181.90 L189.34 182.49 L189.38 183.08 L189.42 183.67 L189.46 184.26 L189.50 184.85 L189.54 185.44 L189.58 186.03 L189.63 186.62 L189.67 187.21 L189.72 187.80 L189.77 188.39 L189.82 188.98" stroke="#000" stroke-width="1.0"/>
</g>
<path d="M233.60 487.40 L230.66 488.36 L228.70 491.25 L227.72 496.06 L227.72 498.94 L228.70 503.75 L230.66 506.64 L233.60 507.60 L235.56 507.60 L238.50 506.64 L240.46 503.75 L241.44 498.94 L241.44 496.06 L240.46 491.25 L238.50 488.36 L235.56 487.40 L233.60 487.40 M249.28 505.68 L248.30 506.64 L249.28 507.60 L250.26 506.64 L249.28 505.68 M269.86 490.28 L268.88 488.36 L265.94 487.40 L263.98 487.40 L261.04 488.36 L259.08 491.25 L258.10 496.06 L258.10 500.87 L259.08 504.71 L261.04 506.64 L263.98 507.60 L264.96 507.60 L267.90 506.64 L269.86 504.71 L270.84 501.83 L270.84 500.87 L269.86 497.98 L267.90 496.06 L264.96 495.09 L263.98 495.09 L261.04 496.06 L259.08 497.98 L258.10 500.87 M365.15 487.40 L362.21 488.36 L360.25 491.25 L359.27 496.06 L359.27 498.94 L360.25 503.75 L362.21 506.64 L365.15 507.60 L367.11 507.60 L370.05 506.64 L372.01 503.75 L372.99 498.94 L372.99 496.06 L372.01 491.25 L370.05 488.36 L367.11 487.40 L365.15 487.40 M380.83 505.68 L379.85 506.64 L380.83 507.60 L381.81 506.64 L380.83 505.68 M393.57 487.40 L390.63 488.36 L389.65 490.28 L389.65 492.21 L390.63 494.13 L392.59 495.09 L396.51 496.06 L399.45 497.02 L401.41 498.94 L402.39 500.87 L402.39 503.75 L401.41 505.68 L400.43 506.64 L397.49 507.60 L393.57 507.60 L390.63 506.64 L389.65 505.68 L388.67 503.75 L388.67 500.87 L389.65 498.94 L391.61 497.02 L394.55 496.06 L398.47 495.09 L400.43 494.13 L401.41 492.21 L401.41 490.28 L400.43 488.36 L397.49 487.40 L393.57 487.40 M493.77 491.25 L495.73 490.28 L498.67 487.40 L498.67 507.60 M512.39 505.68 L511.41 506.64 L512.39 507.60 L513.37 506.64 L512.39 505.68 M526.11 487.40 L523.17 488.36 L521.21 491.25 L520.23 496.06 L520.23 498.94 L521.21 503.75 L523.17 506.64 L526.11 507.60 L528.07 507.60 L531.01 506.64 L532.97 503.75 L533.95 498.94 L533.95 496.06 L532.97 491.25 L531.01 488.36 L528.07 487.40 L526.11 487.40 M625.32 491.25 L627.28 490.28 L630.22 487.40 L630.22 507.60 M643.94 505.68 L642.96 506.64 L643.94 507.60 L644.92 506.64 L643.94 505.68 M652.76 492.21 L652.76 491.25 L653.74 489.32 L654.72 488.36 L656.68 487.40 L660.60 487.40 L662.56 488.36 L663.54 489.32 L664.52 491.25 L664.52 493.17 L663.54 495.09 L661.58 497.98 L651.78 507.60 L665.50 507.60 M756.88 491.25 L758.84 490.28 L761.78 487.40 L761.78 507.60 M775.50 505.68 L774.52 506.64 L775.50 507.60 L776.48 506.64 L775.50 505.68 M793.14 487.40 L783.34 500.87 L798.04 500.87 M793.14 487.40 L793.14 507.60 M131.58 61.15 L133.54 60.18 L136.48 57.30 L136.48 77.50 M150.20 75.58 L149.22 76.54 L150.20 77.50 L151.18 76.54 L150.20 75.58 M169.80 57.30 L160.00 57.30 L159.02 65.96 L160.00 64.99 L162.94 64.03 L165.88 64.03 L168.82 64.99 L170.78 66.92 L171.76 69.80 L171.76 71.73 L170.78 74.61 L168.82 76.54 L165.88 77.50 L162.94 77.50 L160.00 76.54 L159.02 75.58 L158.04 73.65 M131.58 133.75 L133.54 132.78 L136.48 129.90 L136.48 150.10 M150.20 148.18 L149.22 149.14 L150.20 150.10 L151.18 149.14 L150.20 148.18 M163.92 129.90 L160.98 130.86 L159.02 133.75 L158.04 138.56 L158.04 141.44 L159.02 146.25 L160.98 149.14 L163.92 150.10 L165.88 150.10 L168.82 149.14 L170.78 146.25 L171.76 141.44 L171.76 138.56 L170.78 133.75 L168.82 130.86 L165.88 129.90 L163.92 129.90 M134.52 211.10 L131.58 212.06 L129.62 214.95 L128.64 219.76 L128.64 222.64 L129.62 227.45 L131.58 230.34 L134.52 231.30 L136.48 231.30 L139.42 230.34 L141.38 227.45 L142.36 222.64 L142.36 219.76 L141.38 214.95 L139.42 212.06 L136.48 211.10 L134.52 211.10 M150.20 229.38 L149.22 230.34 L150.20 231.30 L151.18 230.34 L150.20 229.38 M169.80 211.10 L160.00 211.10 L159.02 219.76 L160.00 218.79 L162.94 217.83 L165.88 217.83 L168.82 218.79 L170.78 220.72 L171.76 223.60 L171.76 225.53 L170.78 228.41 L168.82 230.34 L165.88 231.30 L162.94 231.30 L160.00 230.34 L159.02 229.38 L158.04 227.45 M134.52 292.30 L131.58 293.26 L129.62 296.15 L128.64 300.96 L128.64 303.84 L129.62 308.65 L131.58 311.54 L134.52 312.50 L136.48 312.50 L139.42 311.54 L141.38 308.65 L142.36 303.84 L142.36 300.96 L141.38 296.15 L139.42 293.26 L136.48 292.30 L134.52 292.30 M150.20 310.58 L149.22 311.54 L150.20 312.50 L151.18 311.54 L150.20 310.58 M163.92 292.30 L160.98 293.26 L159.02 296.15 L158.04 300.96 L158.04 303.84 L159.02 308.65 L160.98 311.54 L163.92 312.50 L165.88 312.50 L168.82 311.54 L170.78 308.65 L171.76 303.84 L171.76 300.96 L170.78 296.15 L168.82 293.26 L165.88 292.30 L163.92 292.30 M105.61 386.00 L122.76 386.00 M134.52 373.50 L131.58 374.46 L129.62 377.35 L128.64 382.16 L128.64 385.04 L129.62 389.85 L131.58 392.74 L134.52 393.70 L136.48 393.70 L139.42 392.74 L141.38 389.85 L142.36 385.04 L142.36 382.16 L141.38 377.35 L139.42 374.46 L136.48 373.50 L134.52 373.50 M150.20 391.78 L149.22 392.74 L150.20 393.70 L151.18 392.74 L150.20 391.78 M169.80 373.50 L160.00 373.50 L159.02 382.16 L160.00 381.19 L162.94 380.23 L165.88 380.23 L168.82 381.19 L170.78 383.12 L171.76 386.00 L171.76 387.93 L170.78 390.81 L168.82 392.74 L165.88 393.70 L162.94 393.70 L160.00 392.74 L159.02 391.78 L158.04 389.85 M105.61 455.70 L122.76 455.70 M131.58 447.05 L133.54 446.08 L136.48 443.20 L136.48 463.40 M150.20 461.48 L149.22 462.44 L150.20 463.40 L151.18 462.44 L150.20 461.48 M163.92 443.20 L160.98 444.16 L159.02 447.05 L158.04 451.86 L158.04 454.74 L159.02 459.55 L160.98 462.44 L163.92 463.40 L165.88 463.40 L168.82 462.44 L170.78 459.55 L171.76 454.74 L171.76 451.86 L170.78 447.05 L168.82 444.16 L165.88 443.20 L163.92 443.20 M436.70 532.24 L436.70 545.40 M436.70 537.88 L437.68 535.06 L439.62 533.18 L441.57 532.24 L444.50 532.24 M460.10 532.24 L460.10 545.40 M460.10 535.06 L458.15 533.18 L456.20 532.24 L453.28 532.24 L451.32 533.18 L449.38 535.06 L448.40 537.88 L448.40 539.76 L449.38 542.58 L451.32 544.46 L453.28 545.40 L456.20 545.40 L458.15 544.46 L460.10 542.58 M478.62 525.66 L478.62 545.40 M478.62 535.06 L476.68 533.18 L474.73 532.24 L471.80 532.24 L469.85 533.18 L467.90 535.06 L466.93 537.88 L466.93 539.76 L467.90 542.58 L469.85 544.46 L471.80 545.40 L474.73 545.40 L476.68 544.46 L478.62 542.58 M485.45 525.66 L486.43 526.60 L487.40 525.66 L486.43 524.72 L485.45 525.66 M486.43 532.24 L486.43 545.40 M494.23 532.24 L494.23 541.64 L495.20 544.46 L497.15 545.40 L500.07 545.40 L502.02 544.46 L504.95 541.64 M504.95 532.24 L504.95 545.40 M522.50 535.06 L521.52 533.18 L518.60 532.24 L515.67 532.24 L512.75 533.18 L511.77 535.06 L512.75 536.94 L514.70 537.88 L519.58 538.82 L521.52 539.76 L522.50 541.64 L522.50 542.58 L521.52 544.46 L518.60 545.40 L515.67 545.40 L512.75 544.46 L511.77 542.58 M60.33 477.83 L73.80 477.83 M63.22 477.83 L61.29 479.79 L60.33 481.75 L60.33 484.68 L61.29 486.63 L63.22 488.59 L66.10 489.57 L68.03 489.57 L70.91 488.59 L72.84 486.63 L73.80 484.68 L73.80 481.75 L72.84 479.79 L70.91 477.83 M60.33 470.01 L73.80 470.01 M64.18 470.01 L61.29 467.08 L60.33 465.12 L60.33 462.19 L61.29 460.24 L64.18 459.26 L73.80 459.26 M60.33 440.68 L75.72 440.68 L78.61 441.66 L79.57 442.64 L80.53 444.59 L80.53 447.53 L79.57 449.48 M63.22 440.68 L61.29 442.64 L60.33 444.59 L60.33 447.53 L61.29 449.48 L63.22 451.44 L66.10 452.41 L68.03 452.41 L70.91 451.44 L72.84 449.48 L73.80 447.53 L73.80 444.59 L72.84 442.64 L70.91 440.68 M60.33 432.86 L69.95 432.86 L72.84 431.88 L73.80 429.93 L73.80 426.99 L72.84 425.04 L69.95 422.11 M60.33 422.11 L73.80 422.11 M53.60 414.28 L73.80 414.28 M60.33 395.71 L73.80 395.71 M63.22 395.71 L61.29 397.66 L60.33 399.62 L60.33 402.55 L61.29 404.51 L63.22 406.46 L66.10 407.44 L68.03 407.44 L70.91 406.46 L72.84 404.51 L73.80 402.55 L73.80 399.62 L72.84 397.66 L70.91 395.71 M60.33 387.89 L73.80 387.89 M66.10 387.89 L63.22 386.91 L61.29 384.95 L60.33 383.00 L60.33 380.06 M60.33 360.51 L73.80 360.51 M64.18 360.51 L61.29 357.58 L60.33 355.62 L60.33 352.69 L61.29 350.73 L64.18 349.76 L73.80 349.76 M64.18 349.76 L61.29 346.82 L60.33 344.87 L60.33 341.93 L61.29 339.98 L64.18 339.00 L73.80 339.00 M60.33 327.27 L61.29 329.22 L63.22 331.18 L66.10 332.16 L68.03 332.16 L70.91 331.18 L72.84 329.22 L73.80 327.27 L73.80 324.34 L72.84 322.38 L70.91 320.42 L68.03 319.45 L66.10 319.45 L63.22 320.42 L61.29 322.38 L60.33 324.34 L60.33 327.27 M60.33 312.60 L73.80 312.60 M64.18 312.60 L61.29 309.67 L60.33 307.71 L60.33 304.78 L61.29 302.83 L64.18 301.85 L73.80 301.85 M64.18 301.85 L61.29 298.92 L60.33 296.96 L60.33 294.03 L61.29 292.07 L64.18 291.09 L73.80 291.09 M66.10 284.25 L66.10 272.52 L64.18 272.52 L62.26 273.50 L61.29 274.47 L60.33 276.43 L60.33 279.36 L61.29 281.32 L63.22 283.27 L66.10 284.25 L68.03 284.25 L70.91 283.27 L72.84 281.32 L73.80 279.36 L73.80 276.43 L72.84 274.47 L70.91 272.52 M60.33 265.67 L73.80 265.67 M64.18 265.67 L61.29 262.74 L60.33 260.79 L60.33 257.85 L61.29 255.90 L64.18 254.92 L73.80 254.92 M53.60 246.12 L69.95 246.12 L72.84 245.14 L73.80 243.19 L73.80 241.23 M60.33 249.05 L60.33 242.21 M60.33 235.36 L69.95 235.36 L72.84 234.39 L73.80 232.43 L73.80 229.50 L72.84 227.54 L69.95 224.61 M60.33 224.61 L73.80 224.61 M60.33 216.79 L73.80 216.79 M64.18 216.79 L61.29 213.86 L60.33 211.90 L60.33 208.97 L61.29 207.01 L64.18 206.03 L73.80 206.03 M64.18 206.03 L61.29 203.10 L60.33 201.15 L60.33 198.21 L61.29 196.26 L64.18 195.28 L73.80 195.28 M53.60 162.04 L73.80 162.04 M63.22 162.04 L61.29 163.99 L60.33 165.95 L60.33 168.88 L61.29 170.84 L63.22 172.79 L66.10 173.77 L68.03 173.77 L70.91 172.79 L72.84 170.84 L73.80 168.88 L73.80 165.95 L72.84 163.99 L70.91 162.04 M66.10 155.19 L66.10 143.46 L64.18 143.46 L62.26 144.44 L61.29 145.42 L60.33 147.37 L60.33 150.31 L61.29 152.26 L63.22 154.22 L66.10 155.19 L68.03 155.19 L70.91 154.22 L72.84 152.26 L73.80 150.31 L73.80 147.37 L72.84 145.42 L70.91 143.46 M60.33 136.62 L73.80 136.62 M64.18 136.62 L61.29 133.68 L60.33 131.73 L60.33 128.80 L61.29 126.84 L64.18 125.86 L73.80 125.86 M63.22 108.26 L61.29 109.24 L60.33 112.17 L60.33 115.11 L61.29 118.04 L63.22 119.02 L65.14 118.04 L66.10 116.09 L67.07 111.20 L68.03 109.24 L69.95 108.26 L70.91 108.26 L72.84 109.24 L73.80 112.17 L73.80 115.11 L72.84 118.04 L70.91 119.02 M53.60 102.40 L54.56 101.42 L53.60 100.44 L52.64 101.42 L53.60 102.40 M60.33 101.42 L73.80 101.42 M53.60 92.62 L69.95 92.62 L72.84 91.64 L73.80 89.69 L73.80 87.73 M60.33 95.55 L60.33 88.71 M60.33 83.82 L73.80 77.96 M60.33 72.09 L73.80 77.96 L77.65 79.91 L79.57 81.87 L80.53 83.82 L80.53 84.80 M53.60 51.56 L73.80 51.56 M60.33 33.96 L73.80 44.71 M60.33 44.71 L60.33 33.96 M73.80 44.71 L73.80 33.96 M313.46 14.51 L313.46 39.50 M313.46 14.51 L323.38 39.50 M333.30 14.51 L323.38 39.50 M333.30 14.51 L333.30 39.50 M347.76 22.84 L345.28 24.03 L342.80 26.41 L341.56 29.98 L341.56 32.36 L342.80 35.93 L345.28 38.31 L347.76 39.50 L351.48 39.50 L353.96 38.31 L356.44 35.93 L357.68 32.36 L357.68 29.98 L356.44 26.41 L353.96 24.03 L351.48 22.84 L347.76 22.84 M379.67 14.51 L379.67 39.50 M379.67 26.41 L377.19 24.03 L374.71 22.84 L370.99 22.84 L368.51 24.03 L366.03 26.41 L364.79 29.98 L364.79 32.36 L366.03 35.93 L368.51 38.31 L370.99 39.50 L374.71 39.50 L377.19 38.31 L379.67 35.93 M388.02 29.98 L402.90 29.98 L402.90 27.60 L401.66 25.22 L400.42 24.03 L397.94 22.84 L394.22 22.84 L391.74 24.03 L389.26 26.41 L388.02 29.98 L388.02 32.36 L389.26 35.93 L391.74 38.31 L394.22 39.50 L397.94 39.50 L400.42 38.31 L402.90 35.93 M411.27 14.51 L411.27 39.50 M439.39 14.51 L439.39 39.50 M439.39 14.51 L450.55 14.51 L454.27 15.70 L455.51 16.89 L456.75 19.27 L456.75 21.65 L455.51 24.03 L454.27 25.22 L450.55 26.41 L439.39 26.41 M448.07 26.41 L456.75 39.50 M478.71 14.51 L466.31 14.51 L465.07 25.22 L466.31 24.03 L470.03 22.84 L473.75 22.84 L477.47 24.03 L479.95 26.41 L481.19 29.98 L481.19 32.36 L479.95 35.93 L477.47 38.31 L473.75 39.50 L470.03 39.50 L466.31 38.31 L465.07 37.12 L463.83 34.74 M484.56 39.86 L506.38 39.86 M511.04 14.51 L511.04 39.50 M511.04 39.50 L525.92 39.50 M534.30 19.27 L536.78 18.08 L540.50 14.51 L540.50 39.50 M558.76 19.27 L561.24 18.08 L564.96 14.51 L564.96 39.50 M575.77 39.86 L597.59 39.86 M602.25 14.51 L602.25 39.50 M619.61 14.51 L619.61 39.50 M602.25 26.41 L619.61 26.41 M629.15 14.51 L629.15 39.50 M629.15 14.51 L640.31 14.51 L644.03 15.70 L645.27 16.89 L646.51 19.27 L646.51 21.65 L645.27 24.03 L644.03 25.22 L640.31 26.41 L629.15 26.41 M637.83 26.41 L646.51 39.50" stroke="#000" stroke-width="1.15" fill="none" stroke-linecap="round" stroke-linejoin="round"/>
</svg>
</body></html>
